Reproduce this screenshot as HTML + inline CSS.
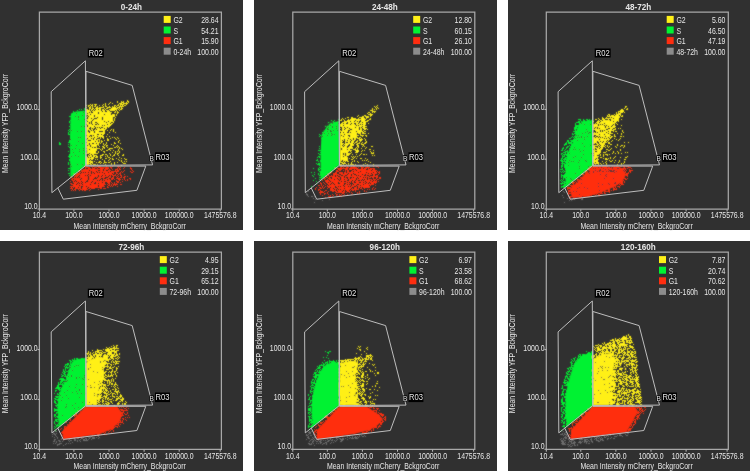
<!DOCTYPE html>
<html><head><meta charset="utf-8"><title>Cell cycle scatter plots</title>
<style>
html,body{margin:0;padding:0;background:#fff;}
body{width:750px;height:471px;overflow:hidden;}
svg{display:block;}
text{font-family:'Liberation Sans', Arial, sans-serif;fill:#e6e6e6;}
.tt{font-size:8.6px;font-weight:bold;}
.tk{font-size:8.2px;}
.lg{font-size:8.2px;}
.rl{font-size:8.2px;}
.rb{font-size:6.5px;}
</style></head>
<body><svg width="750" height="471" viewBox="0 0 750 471" shape-rendering="auto">
<defs><filter id="bl" x="-0.1" y="-0.1" width="1.2" height="1.2"><feConvolveMatrix order="3" kernelMatrix="1 2 1 2 12 2 1 2 1" divisor="24" preserveAlpha="false"/></filter></defs>
<rect width="750" height="471" fill="#fff"/>
<g transform="translate(0,0)">
<rect x="0" y="0" width="243" height="230" fill="#303030"/>
<g filter="url(#bl)"><path d="M76 111.5L71 113.5L70.5 120L70 135L70 160L70.5 177.8L86 165.3L85.7 110.5Z" fill="#00f232"/>
<path d="M84 108.5h1m-6 1h1m1 0h1m2 0h2m-9 1h1m-5 1h1m-1 1h1m-5 4h2m-1 4h1m-2 1h1m-1 1h1m0 2h1m-2 2h1m-1 3h1m-2 1h1m0 1h1m-2 1h1m-1 1h1m-1 1h2m-1 6h1m-1 1h1m-2 1h2m-2 2h1m-1 2h1m0 1h1m-2 4h1m0 3h1m-1 1h1m-2 1h2m-1 1h1m-1 2h1m-1 1h1m-2 2h1m-1 1h1m-1 1h1m-1 4h2m-2 2h1m-1 3h2m-1 2h1" stroke="#00f232" fill="none"/>
<path d="M83 112.5h1m-8 1h1m5 2h1m-8 1h1m2 0h1m-1 1h1m-1 2h1m5 0h1m-4 7h1m2 0h1m-14 4h1m5 1h1m3 0h1m3 1h1m-8 5h1m1 0h1m-11 2h1m7 2h1m3 2h1m-12 2h1m4 0h1m-2 3h1m7 0h1m-12 1h1m6 0h1m3 1h1m-5 1h1m-7 1h1m9 1h1m-9 2h1m-5 1h1m6 0h1m-9 8h1m6 0h1m4 0h1m-12 2h1" stroke="#303030" fill="none"/>
<path d="M59 142.5h1m-1 1h2m-2 1h2" stroke="#00f232" fill="none"/>
<path d="M117 101.5h1m3 0h1m1 0h1m-14 1h1m6 0h1m5 0h1m-19 1h1m3 0h1m2 0h1m12 0h1m-36 1h1m1 0h1m1 0h3m6 0h1m1 0h1m2 0h1m9 0h1m1 0h1m2 0h1m-38 1h1m1 0h2m1 0h2m2 0h1m3 0h1m2 0h1m2 0h1m8 0h2m-28 1h1m1 0h1m1 0h1m1 0h2m1 0h1m7 0h2m2 0h1m2 0h1m-27 1h1m2 0h1m2 0h1m4 0h1m2 0h2m5 0h1m2 0h1m1 0h1m-24 1h1m3 0h1m3 0h1m1 0h1m4 0h1m2 0h1m-21 1h1m1 0h1m1 0h2m7 0h1m1 0h1m-14 1h1m1 0h1m3 0h1m-10 1h1m1 0h1" stroke="#fff018" fill="none"/>
<path d="M103 106.5h1m5 0h1m2 0h1m1 0h1m1 0h1m-27 1h1m1 0h1m3 0h2m1 0h2m1 0h2m4 0h2m2 0h2m1 0h1m-26 1h1m1 0h2m1 0h6m5 0h1m4 0h1m3 0h2m-31 1h2m6 0h1m1 0h2m1 0h2m2 0h1m1 0h1m3 0h1m6 0h1m-31 1h3m2 0h1m1 0h1m2 0h3m1 0h1m1 0h1m3 0h1m4 0h1m-25 1h4m1 0h1m3 0h3m4 0h1m-16 1h1m1 0h1m4 0h1m5 0h1m1 0h2m1 0h2m2 0h2m2 0h1m-29 1h1m3 0h2m4 0h1m5 0h3m5 0h1m-24 1h3m2 0h1m1 0h1m3 0h5m9 0h2m-26 1h3m7 0h2m2 0h2m6 0h4m-24 1h4m3 0h1m1 0h2m2 0h1m5 0h1m-22 1h1m2 0h1m1 0h2m3 0h1m2 0h1m2 0h2m1 0h1m1 0h1m1 0h2m-23 1h1m14 0h2m2 0h1m-23 1h3m4 0h2m3 0h1m7 0h1m1 0h1m2 0h1m-25 1h1m6 0h1m4 0h2m1 0h1m2 0h1m1 0h2m-24 1h1m6 0h1m11 0h2m-21 1h1m5 0h1m5 0h1m8 0h1m2 0h1m-25 1h2m5 0h2m3 0h1m1 0h1m4 0h1m3 0h1m-21 1h3m5 0h1m2 0h1m2 0h1m1 0h1m3 0h1m-24 1h1m1 0h2m2 0h5m1 0h4m4 0h1m1 0h2m-22 1h1m1 0h2m1 0h1m1 0h1m6 0h1m3 0h1m2 0h1m-22 1h2m1 0h1m2 0h1m1 0h1m3 0h1m2 0h1m4 0h1m-23 1h1m1 0h1m4 0h1m4 0h1m3 0h1m-15 1h2m1 0h1m3 0h1m1 0h1m4 0h1m-13 1h1m1 0h1m2 0h1m1 0h1m5 0h1m3 0h1m-17 1h2m5 0h1m5 0h1m-19 1h1m4 0h1m1 0h1m2 0h1m1 0h3m2 0h2m-18 1h2m2 0h1m2 0h1m1 0h2m3 0h1m1 0h2m-18 1h1m2 0h2m3 0h2m5 0h2m-17 1h1m6 0h1m1 0h2m1 0h1m2 0h1m-17 1h2m2 0h1m1 0h1m1 0h3m2 0h1m2 0h2m-18 1h2m1 0h1m1 0h2m5 0h1m1 0h1m1 0h1m-11 1h1m3 0h1m3 0h1m-14 1h2m1 0h1m1 0h1m1 0h1m-8 1h1m3 0h1m1 0h3m1 0h1m-12 1h1m3 0h1m1 0h1m3 0h1m-10 1h1m2 0h1m3 0h1m2 0h1m1 0h1m-13 1h2m2 0h1m-5 1h2m1 0h1m1 0h1m1 0h2m2 0h1m-13 1h1m2 0h1m2 0h2m2 0h1m-11 1h1m5 0h1m-7 1h2m1 0h2m2 0h1m-6 1h8m1 0h1m-10 1h1m1 0h2m2 0h1m-8 1h2m1 0h1m1 0h1m2 0h1m-9 1h2m2 0h2m1 0h2m-6 1h1m4 0h1m-9 1h2m6 0h2m-5 1h1m-5 1h1m2 0h1m1 0h1m1 0h2m-3 1h1m-8 1h1m1 0h1m2 0h2m2 0h1m-11 1h4m3 0h1m-8 1h4m1 0h1m3 0h1m-10 1h3m-3 1h3m3 0h1m1 0h1m-8 1h2m3 0h1m3 0h1m-7 1h1m1 0h1m-6 1h1m2 0h2m1 0h3" stroke="#fff018" fill="none"/>
<path d="M96 110.5h2m1 0h2m2 0h2m-18 1h1m4 0h10m2 0h1m2 0h2m-23 1h3m4 0h2m1 0h2m1 0h5m1 0h2m1 0h2m-24 1h1m1 0h3m1 0h4m1 0h1m1 0h3m1 0h7m-24 1h4m1 0h7m4 0h2m1 0h3m1 0h2m-23 1h1m2 0h3m1 0h3m2 0h2m1 0h1m1 0h6m-24 1h1m1 0h1m1 0h3m1 0h2m1 0h5m1 0h4m1 0h1m-24 1h1m2 0h2m1 0h2m1 0h2m1 0h3m2 0h1m2 0h1m2 0h2m-23 1h2m2 0h2m3 0h3m1 0h1m1 0h1m1 0h1m2 0h3m-25 1h3m1 0h3m3 0h6m1 0h6m1 0h1m-24 1h1m1 0h3m1 0h9m1 0h3m3 0h3m-24 1h3m1 0h1m1 0h10m1 0h2m2 0h2m-24 1h2m1 0h1m1 0h3m2 0h1m1 0h3m1 0h3m1 0h2m-23 1h3m1 0h1m1 0h1m2 0h2m2 0h2m1 0h3m1 0h4m-23 1h3m1 0h1m1 0h2m4 0h1m1 0h1m2 0h3m1 0h1m-23 1h1m3 0h2m1 0h7m5 0h4m-23 1h1m1 0h6m2 0h10m2 0h1m-23 1h2m1 0h1m1 0h4m3 0h1m4 0h1m1 0h2m-21 1h2m3 0h1m1 0h1m2 0h4m1 0h3m1 0h2m-21 1h4m2 0h1m5 0h8m-20 1h2m1 0h1m4 0h9m1 0h1m-19 1h2m2 0h4m1 0h4m4 0h2m-19 1h3m1 0h4m1 0h3m1 0h4m-17 1h17m-17 1h1m1 0h2m1 0h6m2 0h2m-14 1h3m2 0h1m1 0h3m1 0h4m-16 1h1m1 0h1m1 0h1m1 0h3m1 0h1m1 0h4m-16 1h5m1 0h2m1 0h4m-13 1h1m1 0h3m3 0h3m-10 1h6m1 0h2m1 0h3m-14 1h2m3 0h4m1 0h2m-12 1h6m1 0h2m1 0h2m1 0h1m-12 1h11m-13 1h1m1 0h1m1 0h1m3 0h2m2 0h1m-13 1h3m2 0h6m-11 1h1m1 0h2m1 0h1m2 0h3m-10 1h3m1 0h6m-11 1h1m1 0h2m1 0h1m1 0h1m2 0h1m-10 1h1m2 0h4m1 0h2m-11 1h2m2 0h1m1 0h2m2 0h1m-10 1h1m1 0h3m1 0h3m-9 1h4m1 0h3m-8 1h3m1 0h4m-9 1h1m1 0h1m1 0h5m-6 1h2m1 0h2m-6 1h1m1 0h2m1 0h2m-9 1h1m1 0h4m1 0h1m-8 1h2m1 0h1m1 0h2m-7 1h1m1 0h5m-7 1h2m1 0h1m2 0h1m-5 1h1m1 0h1m-3 1h4m-6 1h2m2 0h2m-6 1h5m-5 1h3" stroke="#fff018" fill="none"/>
<path d="M127 100.5h1m-1 1h2m-8 1h3m2 0h1m1 0h1m-10 1h3m1 0h5m-7 1h2m3 0h1m-10 1h2m1 0h1m1 0h1m1 0h2m-12 1h1m1 0h1m2 0h5m-12 1h1m1 0h2m1 0h3m1 0h1m-10 1h4m1 0h1m1 0h1m1 0h2m-13 1h6m2 0h1m1 0h2m-15 1h2m1 0h5m1 0h1m2 0h1m-11 1h1m5 0h1m1 0h1m-12 1h3m1 0h2m3 0h1m1 0h2m-16 1h2m1 0h2m1 0h2m6 0h1m-13 1h6m1 0h3m1 0h1m-17 1h1m1 0h1m1 0h3m2 0h3m1 0h2m1 0h1m-17 1h2m2 0h3m1 0h1m1 0h5m-15 1h2m1 0h1m1 0h1m1 0h3m1 0h2m2 0h1m-16 1h2m1 0h6m1 0h3m1 0h1m-15 1h2m1 0h2m1 0h2m3 0h1m2 0h1m-15 1h3m1 0h1m1 0h4m1 0h2m1 0h1m-14 1h3m3 0h1m1 0h5m-14 1h5m2 0h4m2 0h1m-13 1h2m1 0h2m5 0h2m-12 1h4m1 0h1m2 0h3m-9 1h1m2 0h2m1 0h2m-6 1h4m-5 1h2m0 1h1" stroke="#fff018" fill="none"/>
<path d="M111 129.5h1m1 0h1m-4 1h1m2 0h1m-1 1h1m-5 1h1m5 0h1m-9 2h1m-2 2h1m2 0h1m-10 1h1m2 0h1m8 0h1m1 0h1m2 0h1m-15 1h1m3 0h1m2 0h1m4 0h1m2 0h1m-12 1h2m7 0h1m-18 1h1m1 0h1m2 0h1m2 0h2m10 0h1m-19 1h2m15 0h1m-18 1h1m4 0h1m7 0h1m3 0h1m-22 1h2m1 0h1m2 0h1m2 0h1m7 0h2m4 0h1m-24 1h1m5 0h1m1 0h1m5 0h1m-14 1h1m5 0h1m1 0h2m5 0h1m3 0h1m-19 1h1m2 0h2m2 0h1m9 0h1m1 0h1m-16 1h2m2 0h1m6 0h2m1 0h1m1 0h1m-24 1h1m1 0h2m2 0h1m1 0h1m4 0h4m6 0h1m1 0h1m-27 1h2m3 0h1m1 0h1m5 0h2m8 0h1m3 0h1m-27 1h1m4 0h1m4 0h2m2 0h1m2 0h1m4 0h1m-21 1h1m4 0h2m10 0h1m1 0h1m1 0h1m-22 1h1m5 0h1m7 0h1m2 0h1m3 0h1m-24 1h2m11 0h1m5 0h1m1 0h2m-17 1h2m1 0h2m3 0h1m3 0h1m2 0h1m5 0h1m-24 1h3m4 0h1m2 0h1m2 0h2m3 0h1m3 0h2m-28 1h2m2 0h1m4 0h1m1 0h1m4 0h1m-18 1h3m2 0h2m6 0h2m9 0h1m-20 1h1m4 0h2m3 0h1m1 0h1m3 0h1m4 0h1m2 0h1m-30 1h1m1 0h1m4 0h1m6 0h1m2 0h2m4 0h1m6 0h2m-23 1h1m3 0h1m10 0h1m1 0h1m-28 1h1m4 0h2m3 0h1m5 0h1m10 0h1m2 0h1m1 0h1m-29 1h2m1 0h1m2 0h3m1 0h2m4 0h1m2 0h1m4 0h1m-23 1h1m2 0h1m7 0h1m2 0h1m8 0h3m-29 1h1m7 0h1m5 0h1m2 0h1m6 1h1" stroke="#fff018" fill="none"/>
<path d="M85 166.5h1m1 0h1m3 0h1m1 0h1m3 0h4m5 0h1m5 0h1m4 0h3m-35 1h1m2 0h1m3 0h1m1 0h1m3 0h5m1 0h2m1 0h1m2 0h2m6 0h1m1 0h1m-33 1h1m5 0h1m2 0h1m5 0h1m1 0h1m1 0h1m9 0h1m1 0h1m-37 1h1m3 0h3m1 0h2m3 0h3m1 0h1m3 0h1m2 0h1m1 0h1m5 0h3m1 0h1m-39 1h1m4 0h2m2 0h1m1 0h4m1 0h1m3 0h1m2 0h2m4 0h1m4 0h1m2 0h1m-40 1h1m1 0h1m1 0h1m1 0h1m1 0h2m1 0h1m2 0h2m4 0h1m3 0h3m2 0h2m1 0h5m1 0h2m2 0h1m-42 1h1m8 0h2m1 0h1m2 0h2m1 0h1m10 0h2m1 0h2m2 0h1m-39 1h1m2 0h1m1 0h2m2 0h2m4 0h1m1 0h1m2 0h1m1 0h1m2 0h1m3 0h1m1 0h1m1 0h1m1 0h1m2 0h2m1 0h2m-47 1h1m1 0h1m4 0h1m1 0h1m1 0h3m4 0h1m1 0h1m2 0h3m3 0h1m1 0h1m3 0h2m4 0h1m2 0h1m-43 1h1m3 0h1m2 0h1m2 0h1m1 0h1m2 0h2m2 0h1m1 0h1m2 0h2m4 0h1m5 0h2m1 0h1m1 0h1m2 0h2m-42 1h1m2 0h5m3 0h1m4 0h1m3 0h1m3 0h4m1 0h2m2 0h1m2 0h1m1 0h1m2 0h1m-51 1h1m2 0h1m5 0h1m1 0h1m1 0h1m4 0h2m7 0h1m1 0h1m2 0h2m7 0h1m7 0h2m-39 1h1m1 0h1m1 0h1m3 0h1m1 0h1m3 0h2m8 0h1m4 0h2m2 0h2m1 0h1m-49 1h1m2 0h2m3 0h1m7 0h1m2 0h1m1 0h1m3 0h1m1 0h1m12 0h2m1 0h1m3 0h3m-49 1h1m3 0h2m6 0h1m6 0h2m2 0h2m3 0h2m3 0h1m2 0h1m1 0h1m5 0h1m2 0h1m-50 1h1m4 0h1m3 0h1m10 0h1m2 0h1m1 0h2m1 0h1m1 0h1m5 0h5m5 0h3m-43 1h2m2 0h1m2 0h2m3 0h1m1 0h1m5 0h2m3 0h1m2 0h1m4 0h1m7 0h1m-48 1h2m8 0h1m1 0h1m1 0h1m1 0h1m12 0h4m5 0h2m4 0h1m-44 1h2m7 0h2m1 0h3m2 0h1m2 0h2m4 0h3m2 0h1m1 0h1m2 0h1m5 0h4m-44 1h1m2 0h3m2 0h1m2 0h1m9 0h1m5 0h1m1 0h1m5 0h2m1 0h1m3 0h1m-46 1h5m1 0h3m1 0h1m2 0h2m5 0h1m1 0h1m2 0h1m1 0h1m4 0h3m2 0h1m2 0h1m1 0h1m-42 1h1m1 0h1m9 0h2m2 0h1m4 0h1m2 0h2m1 0h2m1 0h1m5 0h2m-39 1h3m2 0h1m8 0h2m2 0h1m11 0h2m1 0h3m-34 1h1m1 0h2m7 0h1m6 0h1m7 0h1m-28 1h1m1 0h1m1 0h1m3 0h1m2 0h1m1 0h2m3 0h1" stroke="#ff2d0f" fill="none"/>
<path d="M85 167.5h3m1 0h1m4 0h3m2 0h3m1 0h1m1 0h4m-24 1h1m3 0h2m1 0h2m6 0h3m2 0h2m1 0h1m-25 1h7m1 0h4m1 0h6m2 0h2m2 0h1m-28 1h7m2 0h2m1 0h3m3 0h3m1 0h2m2 0h2m-29 1h4m1 0h1m1 0h3m1 0h4m1 0h13m1 0h1m-33 1h2m1 0h1m1 0h1m1 0h2m2 0h1m1 0h1m1 0h1m5 0h2m1 0h5m2 0h2m-35 1h3m2 0h1m1 0h7m1 0h2m1 0h3m1 0h5m1 0h6m-35 1h7m1 0h1m2 0h1m1 0h3m1 0h1m1 0h4m1 0h9m1 0h2m-37 1h4m1 0h5m1 0h1m1 0h2m1 0h7m1 0h2m2 0h2m2 0h2m1 0h1m-37 1h4m1 0h1m1 0h4m1 0h2m1 0h2m1 0h6m1 0h2m1 0h3m1 0h2m1 0h1m-34 1h1m1 0h1m1 0h2m1 0h5m3 0h4m1 0h1m2 0h1m1 0h4m3 0h3m-39 1h9m1 0h6m1 0h5m3 0h4m2 0h1m2 0h3m-37 1h1m1 0h5m2 0h7m1 0h3m2 0h6m1 0h1m1 0h4m1 0h2m-37 1h2m3 0h9m1 0h4m1 0h2m1 0h1m1 0h1m1 0h2m1 0h1m1 0h6m-38 1h1m3 0h2m1 0h1m1 0h4m2 0h4m1 0h2m1 0h10m1 0h2m-36 1h5m1 0h1m1 0h1m4 0h5m1 0h3m2 0h5m1 0h2m2 0h2m-35 1h3m1 0h1m1 0h1m1 0h12m2 0h2m2 0h2m1 0h2m-32 1h3m1 0h5m2 0h4m1 0h1m1 0h1m1 0h6m1 0h4m1 0h1m-32 1h5m1 0h18m1 0h1m1 0h3m-29 1h3m1 0h2m2 0h3m1 0h5m1 0h5m1 0h3m-27 1h3m1 0h2m1 0h1m1 0h4m1 0h3m1 0h2m2 0h4m-26 1h6m1 0h5m2 0h1m1 0h4m-17 1h1m1 0h8" stroke="#ff2d0f" fill="none"/>
<path d="M110 166.5h1m1 0h1m5 1h1m5 0h1m5 0h1m-20 1h1m7 0h1m3 0h1m6 0h2m-23 1h1m2 0h1m6 0h2m10 0h1m-15 1h1m6 0h1m7 0h1m-18 1h3m5 0h1m6 0h1m2 0h1m-14 1h1m1 0h1m8 0h2m-23 1h1m6 0h1m-6 1h1m7 0h1m3 0h1m-11 1h2m5 0h1m-12 1h1m13 0h2m1 0h1m-18 1h1m2 0h1m3 0h1m5 0h2m-14 1h1m6 0h1m5 0h1m4 0h2m-19 1h1m5 0h2m2 0h1m1 0h1m2 0h1m2 0h1m-12 1h1m5 0h1m1 0h1m-18 1h1m5 0h1m1 0h1m3 0h1m-12 1h1m2 0h1m3 0h1m1 0h1m-9 1h1m3 0h1m-8 1h1m1 0h1m5 0h1m2 0h2m-9 1h1m3 1h1" stroke="#ff2d0f" fill="none"/></g>
<g transform="translate(0,0)">
<path d="M39.4 12H221.4V209.1H39.4Z" fill="none" stroke="#a8a8a8" stroke-width="1.25"/>
<text transform="translate(131.4,9.8) scale(0.95,1)" text-anchor="middle" class="tt">0-24h</text>
<path d="M37.5 209.0H39.5" stroke="#bdbdbd" stroke-width="1"/>
<text transform="translate(37.6,208.6) scale(0.845,1)" text-anchor="end" class="tk">10.0</text>
<path d="M37.5 159.2H39.5" stroke="#bdbdbd" stroke-width="1"/>
<text transform="translate(37.6,160.1) scale(0.845,1)" text-anchor="end" class="tk">100.0</text>
<path d="M37.5 109.4H39.5" stroke="#bdbdbd" stroke-width="1"/>
<text transform="translate(37.6,110.4) scale(0.845,1)" text-anchor="end" class="tk">1000.0</text>
<path d="M39.4 209.5V211.5" stroke="#bdbdbd" stroke-width="1"/>
<text transform="translate(39.4,218.4) scale(0.845,1)" text-anchor="middle" class="tk">10.4</text>
<path d="M73.9 209.5V211.5" stroke="#bdbdbd" stroke-width="1"/>
<text transform="translate(73.9021,218.4) scale(0.845,1)" text-anchor="middle" class="tk">100.0</text>
<path d="M109.0 209.5V211.5" stroke="#bdbdbd" stroke-width="1"/>
<text transform="translate(109.002,218.4) scale(0.845,1)" text-anchor="middle" class="tk">1000.0</text>
<path d="M144.1 209.5V211.5" stroke="#bdbdbd" stroke-width="1"/>
<text transform="translate(144.102,218.4) scale(0.845,1)" text-anchor="middle" class="tk">10000.0</text>
<path d="M179.2 209.5V211.5" stroke="#bdbdbd" stroke-width="1"/>
<text transform="translate(179.202,218.4) scale(0.845,1)" text-anchor="middle" class="tk">100000.0</text>
<path d="M220.2 209.5V211.5" stroke="#bdbdbd" stroke-width="1"/>
<text transform="translate(220.233,218.4) scale(0.845,1)" text-anchor="middle" class="tk">1475576.8</text>
<text transform="translate(129.7,229.2) scale(0.845,1)" text-anchor="middle" class="tk">Mean Intensity mCherry_BckgroCorr</text>
<text transform="translate(8.3,123.4) rotate(-90) scale(0.845,1)" text-anchor="middle" class="tk">Mean Intensity YFP_BckgroCorr</text>
<rect x="163.7" y="15.9" width="7" height="7" fill="#fff018"/>
<text transform="translate(173.4,23) scale(0.845,1)" class="lg">G2</text>
<text transform="translate(218.5,23) scale(0.845,1)" text-anchor="end" class="lg">28.64</text>
<rect x="163.7" y="26.5" width="7" height="7" fill="#00f232"/>
<text transform="translate(173.4,33.6) scale(0.845,1)" class="lg">S</text>
<text transform="translate(218.5,33.6) scale(0.845,1)" text-anchor="end" class="lg">54.21</text>
<rect x="163.7" y="37.1" width="7" height="7" fill="#ff2d0f"/>
<text transform="translate(173.4,44.2) scale(0.845,1)" class="lg">G1</text>
<text transform="translate(218.5,44.2) scale(0.845,1)" text-anchor="end" class="lg">15.90</text>
<rect x="163.7" y="47.7" width="7" height="7" fill="#8c8c8c"/>
<text transform="translate(173.4,54.8) scale(0.845,1)" class="lg">0-24h</text>
<text transform="translate(218.5,54.8) scale(0.845,1)" text-anchor="end" class="lg">100.00</text>
<path d="M85.4 60.8 L51.2 91.7 L51.9 192.7 L86 165.3Z" fill="none" stroke="#bdbdbd" stroke-width="1"/>
<path d="M86 71.3 L132.2 85.4 L152.6 164.9 L86 165.3Z" fill="none" stroke="#bdbdbd" stroke-width="1"/>
<path d="M86 166.1 L145.8 166.1 L136.9 190.3 L63.3 199.2 L57.8 187.9" fill="none" stroke="#bdbdbd" stroke-width="1"/>
<g>
<rect x="87.8" y="48.5" width="16" height="9" fill="#000"/>
<text transform="translate(95.8,56) scale(0.93,1)" text-anchor="middle" class="rl">R02</text>
<rect x="155" y="152.3" width="15" height="9.6" fill="#000"/>
<text transform="translate(162.5,160) scale(0.93,1)" text-anchor="middle" class="rl">R03</text>
<rect x="149.6" y="155.2" width="4.2" height="6" fill="#000"/>
<text transform="translate(151.7,160.8) scale(1,1)" text-anchor="middle" class="rb">B</text>
</g>
</g>
</g>
<g transform="translate(254,0)">
<rect x="0" y="0" width="243" height="230" fill="#303030"/>
<g filter="url(#bl)"><path d="M78 122.5L74 125L70 131L67.5 135L67 145L66.5 160L67 180L68.8 178.6L85.4 165.3L85.1 121.1Z" fill="#00f232"/>
<path d="M84 119.5h1m-8 1h1m2 0h1m-2 1h1m-6 1h1m1 0h1m1 0h1m-8 4h1m-4 6h1m-4 2h1m0 1h1m-2 1h1m1 2h1m-3 10h1m-2 2h1m1 0h1m-1 2h1m-3 1h1m0 1h2m-3 2h1m1 4h1m-3 1h1m1 0h1m-3 2h2m-1 1h1m-1 3h1m0 1h1m-2 1h1m-2 1h1m0 1h2m-1 1h1m-1 1h1m-3 1h1m1 0h1m-2 1h2m-2 2h2m-1 2h1" stroke="#00f232" fill="none"/>
<path d="M76 121.5h1m1 0h1m3 0h1m-13 1h3m2 0h2m1 0h1m-6 1h1m4 0h1m5 0h1m-11 1h1m10 0h1m-15 1h1m2 0h1m1 0h1m-5 1h1m5 0h1m3 0h1m-14 1h1m4 0h1m3 0h1m-6 1h1m8 0h1m-10 1h2m-6 1h1m6 0h1m2 0h1m3 0h1m-11 1h1m2 0h2m-10 2h1m1 0h1m3 0h1m2 0h1m0 1h1m1 0h1m-8 1h1m3 0h1m-10 1h1" stroke="#303030" fill="none"/>
<path d="M65 146.5h1m-1 4h1m-1 6h1m-3 1h1m1 0h1m-3 2h1m-2 1h2m2 0h1m-5 3h1m0 1h3m-1 1h1m-7 3h1m4 0h1m-1 1h1m-8 3h1m2 0h1m3 1h1m-5 1h1m-3 1h1m0 1h1m5 1h1m-5 1h1m3 1h1m-7 1h1m2 1h1m-1 2h1m-6 3h1" stroke="#00f232" fill="none"/>
<path d="M114 114.5h2m-12 1h1m5 0h1m-8 1h1m4 0h2m1 0h2m1 0h1m1 0h1m-24 1h2m2 0h2m6 0h2m2 0h1m2 0h3m-27 1h1m2 0h1m6 0h2m8 0h1m1 0h1m1 0h1m3 0h1m-30 1h1m1 0h1m10 0h1m3 0h1m5 0h1m4 0h2m-31 1h2m2 0h1m2 0h1m4 0h1m3 0h1m5 0h3m2 0h2m-24 1h3m1 0h1m15 0h1m1 0h1m-26 1h1m8 0h3m1 0h1m1 0h1m-14 1h1m3 0h2m6 0h2m1 0h3m6 0h1m-29 1h1m4 0h1m1 0h1m3 0h1m4 0h1m6 0h1m-22 1h1m1 0h1m5 0h3m1 0h1m9 0h1m-19 1h1m4 0h1m1 0h3m1 0h1m3 0h1m3 0h2m-22 1h2m1 0h3m13 0h1m-21 1h1m6 0h2m1 0h1m3 0h1m4 0h4m-24 1h1m1 0h2m1 0h1m3 0h1m3 0h1m7 0h1m-21 1h4m5 0h2m1 0h1m1 0h3m2 0h1m-23 1h3m1 0h1m3 0h1m1 0h3m4 0h3m1 0h1m1 0h2m-21 1h1m3 0h1m3 0h1m2 0h1m3 0h1m1 0h2m-21 1h1m3 0h2m3 0h1m2 0h1m3 0h2m1 0h2m-23 1h2m4 0h1m1 0h2m4 0h1m4 0h1m-21 1h1m2 0h1m8 0h1m7 0h1m1 0h1m-22 1h1m2 0h1m3 0h1m1 0h1m3 0h1m-10 1h1m3 0h3m7 0h2m-16 1h2m3 0h1m1 0h1m4 0h3m1 0h1m-21 1h2m3 0h4m2 0h1m1 0h1m4 0h3m-21 1h1m1 0h1m5 0h2m3 0h1m2 0h1m1 0h1m-18 1h1m6 0h1m1 0h2m3 0h1m3 0h1m-16 1h1m3 0h1m2 0h1m6 0h1m-20 1h2m8 0h1m1 0h1m1 0h1m2 0h1m-16 1h1m5 0h1m3 0h2m3 0h1m-18 1h1m4 0h2m3 0h1m1 0h2m3 0h1m-18 1h1m1 0h1m2 0h2m2 0h1m7 0h2m-16 1h3m2 0h2m2 0h1m-13 1h1m2 0h2m1 0h2m3 0h2m-5 1h2m7 0h1m-16 1h2m6 0h2m3 0h1m1 0h1m-12 1h1m3 0h1m5 0h2m-18 1h1m2 0h1m1 0h2m4 0h1m3 0h3m-17 1h1m2 0h1m3 0h3m-11 1h1m6 0h3m2 0h1m3 0h1m-17 1h3m1 0h1m3 0h1m-9 1h3m12 0h1m1 0h1m-16 1h2m3 0h1m6 0h1m-9 1h2m1 0h1m3 0h1m2 0h1m-17 1h1m1 0h1m3 0h2m4 0h1m-9 1h4m6 0h1m-12 1h1m1 0h1m1 0h2m3 0h1m1 0h1m-13 2h1m2 0h1m2 0h1m2 0h1m-11 1h1m4 0h1m1 0h1m1 0h1m1 0h2" stroke="#fff018" fill="none"/>
<path d="M105 117.5h5m-13 1h2m1 0h2m2 0h1m2 0h1m1 0h2m-17 1h1m1 0h8m1 0h7m-18 1h7m1 0h4m1 0h4m-21 1h1m1 0h4m1 0h3m1 0h2m1 0h1m2 0h4m1 0h1m-25 1h5m1 0h9m1 0h1m1 0h2m1 0h3m-25 1h2m1 0h2m2 0h1m1 0h1m1 0h2m2 0h1m3 0h6m-26 1h10m1 0h4m1 0h4m1 0h1m1 0h3m-26 1h3m2 0h6m1 0h4m1 0h1m1 0h5m-24 1h11m1 0h5m1 0h3m2 0h2m-23 1h2m1 0h2m1 0h1m2 0h4m1 0h3m1 0h1m1 0h2m-24 1h1m1 0h3m1 0h3m1 0h1m2 0h6m1 0h2m-20 1h1m2 0h5m2 0h4m1 0h2m1 0h2m-22 1h1m1 0h6m2 0h4m1 0h7m-22 1h2m1 0h5m1 0h3m2 0h2m1 0h4m-20 1h2m1 0h1m1 0h1m4 0h2m1 0h6m-20 1h12m1 0h4m-17 1h2m1 0h1m1 0h10m1 0h1m-17 1h1m1 0h6m2 0h2m1 0h5m-18 1h3m1 0h5m1 0h5m1 0h1m-17 1h5m1 0h3m1 0h1m1 0h1m1 0h4m-18 1h6m1 0h1m1 0h4m1 0h2m-16 1h4m1 0h5m1 0h2m1 0h2m-16 1h2m1 0h1m1 0h2m1 0h1m1 0h1m1 0h3m-15 1h2m3 0h5m2 0h2m-14 1h2m6 0h2m1 0h3m-13 1h3m1 0h8m-13 1h3m1 0h4m2 0h2m-12 1h2m1 0h1m2 0h2m2 0h3m-12 1h2m1 0h1m1 0h1m3 0h2m-12 1h5m1 0h1m1 0h1m1 0h2m-10 1h9m-11 1h1m1 0h5m1 0h2m-10 1h10m-10 1h9m-8 1h7m-8 1h3m3 0h2m-8 1h3m1 0h1m1 0h2m-8 1h5m1 0h2m-8 1h2m2 0h3m-7 1h7m-7 1h6m-6 1h6m-6 1h2m1 0h1m-4 1h1m2 0h1m-4 1h3m1 0h1m-2 1h2m-5 1h2m1 0h1m-4 1h1" stroke="#fff018" fill="none"/>
<path d="M123 105.5h1m-4 1h1m1 0h1m-2 1h1m1 0h1m-6 1h1m3 0h1m1 0h1m-7 1h1m1 0h1m1 0h1m-7 1h3m-1 1h4m-8 1h2m2 0h1m1 0h1m-8 1h1m2 0h1m-1 1h3m-8 1h1m4 0h2m-10 1h1m2 0h1m1 0h1m-1 1h1" stroke="#fff018" fill="none"/>
<path d="M111 128.5h1m-6 1h1m4 0h1m1 0h1m-8 1h2m-1 1h1m3 0h1m-10 1h1m2 0h1m-2 1h1m5 0h2m2 0h1m-16 1h1m4 1h1m2 0h1m1 0h1m1 0h2m-12 1h1m6 0h1m3 0h1m-14 1h3m1 0h1m2 0h1m-9 1h1m11 0h1m-3 1h1m2 0h1m-7 1h3m3 0h1m-9 1h1m8 0h1m-16 1h1m1 0h1m1 0h2m5 0h1m2 0h2m-9 1h2m1 0h1m2 0h2m-13 1h1m2 0h1m4 0h3m-13 1h1m6 0h1m4 0h1m-2 1h1m1 0h1m6 0h2m-21 1h1m3 0h1m1 0h1m7 0h1m-12 1h1m1 0h1m3 0h1m3 0h1m-13 1h3m13 0h2m-15 1h1m1 0h1m3 0h1m1 0h1m8 0h1m-16 1h1m2 0h1m8 0h1m-20 1h1m19 0h1m1 0h1m-13 1h1m9 0h3m-14 1h1m2 0h2m1 0h1m-8 1h1m12 0h1m1 0h1m-24 1h1m1 0h1m-2 1h1m7 1h2m3 0h1m-15 1h2m14 0h1m-6 1h1m1 0h1m1 0h1m-10 1h1m10 0h1m-18 1h1m6 0h1m11 0h1m-6 1h1m-15 1h2m2 0h1m7 0h1m3 0h1m5 0h1" stroke="#fff018" fill="none"/>
<path d="M87 166.5h2m1 0h2m1 0h1m3 0h1m1 0h2m5 0h2m5 0h1m5 0h1m2 0h2m-38 1h1m5 0h1m1 0h1m1 0h2m3 0h1m9 0h3m10 0h1m-44 1h1m1 0h2m3 0h1m1 0h1m1 0h1m2 0h2m1 0h1m1 0h1m6 0h1m4 0h1m1 0h1m1 0h1m-32 1h1m9 0h1m6 0h1m1 0h1m1 0h2m9 0h1m2 0h1m-39 1h2m2 0h1m2 0h1m1 0h1m12 0h1m2 0h1m2 0h3m3 0h1m2 0h1m2 0h1m-41 1h2m9 0h2m5 0h1m3 0h2m3 0h4m1 0h2m1 0h1m2 0h2m1 0h1m1 0h1m-49 1h1m4 0h1m2 0h1m1 0h2m1 0h1m3 0h1m1 0h2m2 0h2m4 0h1m1 0h1m2 0h1m2 0h1m1 0h1m1 0h1m3 0h1m1 0h2m-50 1h1m2 0h1m5 0h2m4 0h2m2 0h2m1 0h1m5 0h1m4 0h1m15 0h1m-52 1h1m4 0h1m4 0h1m6 0h1m6 0h2m3 0h3m4 0h1m3 0h1m1 0h1m2 0h1m4 0h1m-51 1h1m2 0h1m1 0h1m2 0h1m3 0h1m2 0h2m5 0h1m1 0h1m4 0h1m2 0h2m4 0h1m2 0h1m7 0h1m-52 1h1m2 0h3m2 0h1m2 0h1m5 0h1m1 0h1m3 0h1m2 0h1m2 0h3m4 0h2m2 0h3m2 0h3m2 0h2m-52 1h2m1 0h1m3 0h1m1 0h4m6 0h1m3 0h1m2 0h1m5 0h1m1 0h1m3 0h1m3 0h1m1 0h1m5 0h2m1 0h2m-57 1h2m2 0h1m1 0h1m1 0h1m1 0h1m7 0h1m5 0h2m4 0h1m4 0h1m4 0h1m1 0h1m1 0h1m10 0h2m-57 1h1m7 0h1m4 0h1m4 0h2m3 0h1m1 0h2m1 0h4m2 0h1m9 0h1m8 0h2m-57 1h1m2 0h1m1 0h2m2 0h1m3 0h1m1 0h1m2 0h2m3 0h2m4 0h1m4 0h1m3 0h1m6 0h1m1 0h1m1 0h2m1 0h1m1 0h1m-52 1h1m1 0h2m2 0h1m1 0h1m1 0h2m1 0h1m10 0h1m2 0h1m2 0h2m1 0h2m1 0h1m2 0h1m1 0h1m4 0h1m3 0h2m1 0h1m-59 1h1m2 0h1m9 0h1m1 0h1m4 0h2m2 0h1m7 0h1m9 0h1m2 0h1m1 0h1m2 0h1m4 0h2m-57 1h2m2 0h1m4 0h1m5 0h1m1 0h1m3 0h1m1 0h1m4 0h1m5 0h2m1 0h2m1 0h1m2 0h2m1 0h2m3 0h1m3 0h1m-55 1h1m9 0h2m13 0h1m1 0h1m1 0h1m3 0h2m10 0h1m1 0h1m2 0h1m1 0h1m-56 1h2m1 0h1m1 0h1m3 0h1m2 0h1m3 0h3m2 0h1m1 0h1m4 0h1m1 0h3m2 0h1m3 0h1m1 0h1m3 0h1m2 0h2m2 0h1m4 0h1m-54 1h1m2 0h1m2 0h1m1 0h1m10 0h3m7 0h1m1 0h1m6 0h1m1 0h2m4 0h2m-54 1h1m2 0h2m1 0h1m1 0h1m4 0h1m1 0h2m4 0h1m3 0h1m3 0h1m3 0h1m1 0h1m3 0h1m5 0h1m4 0h1m2 0h1m3 0h1m-59 1h1m4 0h2m1 0h1m3 0h1m3 0h1m3 0h2m2 0h1m6 0h1m2 0h1m4 0h1m3 0h1m2 0h1m10 0h1m2 0h1m-61 1h1m2 0h2m11 0h2m2 0h1m3 0h1m1 0h2m1 0h1m3 0h2m1 0h2m1 0h1m1 0h2m4 0h1m4 0h1m1 0h1m2 0h1m1 0h1m-57 1h1m1 0h1m4 0h2m3 0h2m6 0h2m1 0h1m2 0h1m1 0h1m6 0h1m1 0h1m8 0h1m-45 1h3m1 0h1m3 0h1m3 0h1m5 0h1m4 0h1m4 0h2m5 0h1m3 0h1m4 0h1m1 0h1m-48 1h5m3 0h1m8 0h2m1 0h1m1 0h1m2 0h1m4 0h1m1 0h1m5 0h1m1 0h1m-40 1h1m3 0h2m1 0h1m7 0h1m6 0h2m8 0h1m4 0h1m1 0h1m-40 1h1m3 0h1m3 0h1m3 0h1m3 0h2m1 0h1m1 0h1m2 0h1m2 0h1m3 0h1m-30 1h1m7 0h1m2 0h1m2 0h1m2 0h2m2 0h1m-16 1h3m1 0h1m5 0h1m2 0h1m-17 1h1m3 0h1" stroke="#ff2d0f" fill="none"/>
<path d="M86 167.5h2m1 0h1m2 0h3m1 0h1m1 0h5m1 0h1m2 0h3m1 0h5m-32 1h4m1 0h5m1 0h5m1 0h3m3 0h2m1 0h2m2 0h1m1 0h5m-37 1h4m3 0h3m1 0h3m2 0h1m1 0h2m1 0h7m2 0h4m1 0h2m-39 1h2m1 0h1m7 0h2m3 0h4m1 0h8m1 0h5m1 0h1m1 0h3m-41 1h1m1 0h1m6 0h1m5 0h2m2 0h4m2 0h5m1 0h2m1 0h1m1 0h2m1 0h1m1 0h1m-43 1h2m3 0h1m3 0h2m1 0h11m1 0h3m1 0h3m1 0h1m1 0h4m1 0h3m-44 1h4m4 0h2m1 0h1m1 0h2m3 0h1m2 0h9m1 0h4m1 0h2m1 0h5m-44 1h5m3 0h6m1 0h3m1 0h2m2 0h1m1 0h4m1 0h2m1 0h2m1 0h3m1 0h2m-44 1h1m2 0h1m3 0h3m3 0h1m2 0h3m2 0h4m1 0h1m1 0h1m1 0h3m2 0h1m2 0h1m3 0h2m1 0h2m-48 1h5m1 0h2m2 0h3m2 0h4m1 0h6m1 0h3m1 0h2m1 0h5m1 0h6m-47 1h1m2 0h4m3 0h1m1 0h3m4 0h2m2 0h1m1 0h3m1 0h2m1 0h2m1 0h1m1 0h1m1 0h3m1 0h2m-45 1h2m1 0h5m1 0h2m1 0h6m2 0h1m1 0h3m1 0h1m1 0h1m1 0h8m6 0h1m2 0h1m-50 1h1m1 0h5m1 0h2m2 0h1m1 0h3m1 0h3m1 0h4m1 0h1m2 0h1m1 0h3m1 0h1m1 0h2m1 0h4m1 0h3m-50 1h1m1 0h1m1 0h9m1 0h5m1 0h1m2 0h2m2 0h2m1 0h2m2 0h1m1 0h1m1 0h6m1 0h2m1 0h1m1 0h1m-51 1h4m1 0h10m1 0h2m2 0h5m1 0h2m1 0h6m1 0h3m2 0h5m1 0h3m-50 1h2m1 0h3m1 0h5m1 0h5m1 0h2m1 0h1m1 0h1m1 0h2m2 0h3m2 0h1m2 0h1m2 0h2m2 0h4m-48 1h4m1 0h1m1 0h3m3 0h4m2 0h4m3 0h2m1 0h2m1 0h5m5 0h1m1 0h3m-49 1h1m2 0h2m2 0h2m1 0h9m1 0h1m2 0h1m1 0h1m1 0h1m1 0h1m1 0h1m2 0h4m1 0h7m1 0h2m-45 1h7m1 0h4m1 0h1m1 0h4m1 0h2m1 0h1m1 0h2m1 0h3m1 0h8m1 0h1m-44 1h1m1 0h6m1 0h2m1 0h1m1 0h3m1 0h3m1 0h1m2 0h1m3 0h1m1 0h2m1 0h1m2 0h4m1 0h1m-42 1h1m2 0h4m2 0h12m1 0h2m2 0h3m1 0h2m1 0h1m1 0h7m-40 1h3m1 0h1m1 0h1m1 0h1m1 0h4m1 0h4m1 0h1m1 0h1m1 0h3m1 0h1m1 0h2m2 0h1m-35 1h2m1 0h1m1 0h1m1 0h1m1 0h1m1 0h9m2 0h2m1 0h1m1 0h2m-28 1h5m1 0h1m1 0h2m1 0h1m1 0h1m2 0h2m1 0h1m1 0h2m-21 1h1m1 0h2m2 0h3m2 0h1m2 0h1m1 0h1m-12 1h1m1 0h4m2 0h1" stroke="#ff2d0f" fill="none"/>
<path d="M54 191.5h1m-3 2h1m-1 1h2m-1 1h1m0 1h1m2 0h2m1 0h1m22 0h1m-7 1h1m-19 1h1m1 1h1m13 0h1m-8 1h1m-9 2h1" stroke="#6e6e6e" fill="none"/></g>
<g transform="translate(-0.6,0)">
<path d="M39.4 12H221.4V209.1H39.4Z" fill="none" stroke="#a8a8a8" stroke-width="1.25"/>
<text transform="translate(131.4,9.8) scale(0.95,1)" text-anchor="middle" class="tt">24-48h</text>
<path d="M37.5 209.0H39.5" stroke="#bdbdbd" stroke-width="1"/>
<text transform="translate(37.6,208.6) scale(0.845,1)" text-anchor="end" class="tk">10.0</text>
<path d="M37.5 159.2H39.5" stroke="#bdbdbd" stroke-width="1"/>
<text transform="translate(37.6,160.1) scale(0.845,1)" text-anchor="end" class="tk">100.0</text>
<path d="M37.5 109.4H39.5" stroke="#bdbdbd" stroke-width="1"/>
<text transform="translate(37.6,110.4) scale(0.845,1)" text-anchor="end" class="tk">1000.0</text>
<path d="M39.4 209.5V211.5" stroke="#bdbdbd" stroke-width="1"/>
<text transform="translate(39.4,218.4) scale(0.845,1)" text-anchor="middle" class="tk">10.4</text>
<path d="M73.9 209.5V211.5" stroke="#bdbdbd" stroke-width="1"/>
<text transform="translate(73.9021,218.4) scale(0.845,1)" text-anchor="middle" class="tk">100.0</text>
<path d="M109.0 209.5V211.5" stroke="#bdbdbd" stroke-width="1"/>
<text transform="translate(109.002,218.4) scale(0.845,1)" text-anchor="middle" class="tk">1000.0</text>
<path d="M144.1 209.5V211.5" stroke="#bdbdbd" stroke-width="1"/>
<text transform="translate(144.102,218.4) scale(0.845,1)" text-anchor="middle" class="tk">10000.0</text>
<path d="M179.2 209.5V211.5" stroke="#bdbdbd" stroke-width="1"/>
<text transform="translate(179.202,218.4) scale(0.845,1)" text-anchor="middle" class="tk">100000.0</text>
<path d="M220.2 209.5V211.5" stroke="#bdbdbd" stroke-width="1"/>
<text transform="translate(220.233,218.4) scale(0.845,1)" text-anchor="middle" class="tk">1475576.8</text>
<text transform="translate(129.7,229.2) scale(0.845,1)" text-anchor="middle" class="tk">Mean Intensity mCherry_BckgroCorr</text>
<text transform="translate(8.3,123.4) rotate(-90) scale(0.845,1)" text-anchor="middle" class="tk">Mean Intensity YFP_BckgroCorr</text>
<rect x="159.8" y="15.9" width="7" height="7" fill="#fff018"/>
<text transform="translate(169.5,23) scale(0.845,1)" class="lg">G2</text>
<text transform="translate(218.5,23) scale(0.845,1)" text-anchor="end" class="lg">12.80</text>
<rect x="159.8" y="26.5" width="7" height="7" fill="#00f232"/>
<text transform="translate(169.5,33.6) scale(0.845,1)" class="lg">S</text>
<text transform="translate(218.5,33.6) scale(0.845,1)" text-anchor="end" class="lg">60.15</text>
<rect x="159.8" y="37.1" width="7" height="7" fill="#ff2d0f"/>
<text transform="translate(169.5,44.2) scale(0.845,1)" class="lg">G1</text>
<text transform="translate(218.5,44.2) scale(0.845,1)" text-anchor="end" class="lg">26.10</text>
<rect x="159.8" y="47.7" width="7" height="7" fill="#8c8c8c"/>
<text transform="translate(169.5,54.8) scale(0.845,1)" class="lg">24-48h</text>
<text transform="translate(218.5,54.8) scale(0.845,1)" text-anchor="end" class="lg">100.00</text>
<path d="M85.4 60.8 L51.2 91.7 L51.9 192.7 L86 165.3Z" fill="none" stroke="#bdbdbd" stroke-width="1"/>
<path d="M86 71.3 L132.2 85.4 L152.6 164.9 L86 165.3Z" fill="none" stroke="#bdbdbd" stroke-width="1"/>
<path d="M86 166.1 L145.8 166.1 L136.9 190.3 L63.3 199.2 L57.8 187.9" fill="none" stroke="#bdbdbd" stroke-width="1"/>
<g>
<rect x="87.8" y="48.5" width="16" height="9" fill="#000"/>
<text transform="translate(95.8,56) scale(0.93,1)" text-anchor="middle" class="rl">R02</text>
<rect x="155" y="152.3" width="15" height="9.6" fill="#000"/>
<text transform="translate(162.5,160) scale(0.93,1)" text-anchor="middle" class="rl">R03</text>
<rect x="149.6" y="155.2" width="4.2" height="6" fill="#000"/>
<text transform="translate(151.7,160.8) scale(1,1)" text-anchor="middle" class="rb">B</text>
</g>
</g>
</g>
<g transform="translate(508,0)">
<rect x="0" y="0" width="242" height="230" fill="#303030"/>
<g filter="url(#bl)"><path d="M70 119.5h3m2 0h1m2 0h2m1 0h1m2 0h1m-13 1h1m2 0h2m2 0h3m1 0h2m-15 1h2m1 0h1m1 0h1m2 0h3m2 0h1m-16 1h4m4 0h3m1 0h2m1 0h1m-17 1h1m3 0h7m2 0h2m1 0h1m-17 1h1m6 0h1m1 0h1m1 0h2m2 0h2m-17 1h4m2 0h2m2 0h1m1 0h3m1 0h1m-17 1h3m1 0h1m4 0h1m1 0h1m1 0h1m1 0h1m1 0h1m-19 1h3m12 0h3m-18 1h4m1 0h2m2 0h1m2 0h2m2 0h1m-17 1h2m1 0h4m2 0h1m1 0h5m2 0h1m-18 1h2m1 0h1m1 0h1m2 0h3m3 0h1m1 0h2m-20 1h4m1 0h4m1 0h1m1 0h2m1 0h1m2 0h1m-17 1h4m1 0h1m1 0h1m1 0h4m1 0h4m-21 1h1m1 0h3m2 0h1m4 0h3m2 0h1m2 0h1m-21 1h2m2 0h2m2 0h1m3 0h1m4 0h1m-13 1h1m1 0h8m2 0h4m-21 1h1m1 0h1m2 0h1m1 0h2m3 0h3m1 0h2m1 0h1m-21 1h1m1 0h1m1 0h4m1 0h2m2 0h1m5 0h2m-23 1h2m3 0h2m1 0h1m1 0h1m1 0h6m4 0h2m-20 1h2m1 0h2m1 0h2m1 0h2m2 0h1m1 0h1m2 0h1m-25 1h2m1 0h8m1 0h2m1 0h2m1 0h1m2 0h2m1 0h1m-25 1h2m2 0h3m1 0h2m2 0h4m3 0h6m-26 1h1m1 0h4m1 0h1m1 0h2m2 0h1m3 0h2m3 0h5m-28 1h2m1 0h4m1 0h1m1 0h3m2 0h1m1 0h1m2 0h1m1 0h1m4 0h1m-29 1h3m4 0h2m1 0h1m3 0h1m1 0h3m5 0h2m1 0h1m-28 1h1m4 0h1m1 0h1m2 0h1m2 0h1m1 0h3m2 0h4m4 0h1m-26 1h2m1 0h5m1 0h2m1 0h1m1 0h1m1 0h2m1 0h2m1 0h2m1 0h1m-30 1h1m2 0h2m6 0h1m7 0h2m1 0h3m1 0h4m-31 1h2m2 0h1m2 0h4m2 0h1m1 0h1m3 0h2m1 0h1m1 0h1m2 0h2m1 0h1m-31 1h1m2 0h1m4 0h2m2 0h2m1 0h1m1 0h3m3 0h1m5 0h2m-32 1h2m1 0h1m2 0h1m1 0h2m1 0h1m1 0h4m5 0h2m1 0h1m2 0h1m1 0h2m-28 1h3m2 0h1m2 0h2m3 0h1m1 0h1m1 0h1m3 0h1m3 0h3m-30 1h3m1 0h2m1 0h4m2 0h3m1 0h3m6 0h2m1 0h1m-32 1h2m2 0h1m1 0h1m6 0h5m8 0h4m1 0h1m-32 1h1m1 0h5m3 0h2m1 0h2m3 0h2m3 0h3m3 0h2m-30 1h1m1 0h1m1 0h3m2 0h1m3 0h6m2 0h1m3 0h3m2 0h1m-31 1h3m2 0h4m3 0h3m2 0h1m3 0h2m1 0h3m2 0h1m-30 1h1m2 0h4m2 0h4m2 0h3m5 0h3m3 0h2m-32 1h2m1 0h2m3 0h3m1 0h2m1 0h2m1 0h2m3 0h1m1 0h3m3 0h1m-32 1h1m1 0h4m1 0h9m4 0h2m2 0h3m2 0h3m-33 1h3m1 0h1m2 0h3m1 0h4m4 0h7m2 0h2m2 0h1m-32 1h6m1 0h2m3 0h1m2 0h2m3 0h1m3 0h4m3 0h1m-31 1h1m2 0h2m2 0h2m1 0h2m3 0h1m2 0h1m3 0h2m1 0h1m1 0h1m-29 1h4m2 0h1m1 0h1m1 0h1m4 0h2m2 0h3m4 0h5m-30 1h1m1 0h4m5 0h1m1 0h4m2 0h1m1 0h5m1 0h2m-30 1h2m1 0h2m2 0h1m2 0h1m1 0h3m1 0h6m5 0h3m-30 1h2m1 0h2m3 0h2m1 0h2m1 0h6m6 0h2m1 0h1m-30 1h1m2 0h2m3 0h1m2 0h2m2 0h2m3 0h3m1 0h1m3 0h1m-28 1h1m2 0h2m1 0h2m2 0h1m1 0h2m4 0h1m1 0h1m4 0h1m-28 1h3m2 0h1m2 0h1m1 0h4m2 0h2m2 0h2m2 0h4m-25 1h1m1 0h1m1 0h1m2 0h5m2 0h2m2 0h3m1 0h1m-26 1h1m1 0h1m1 0h1m1 0h1m4 0h1m1 0h1m1 0h3m1 0h1m2 0h4m-25 1h1m1 0h1m1 0h1m3 0h3m3 0h1m3 0h1m2 0h1m-18 1h1m1 0h3m1 0h2m1 0h1m1 0h7m-22 1h1m2 0h6m1 0h2m2 0h4m2 0h1m-21 1h5m1 0h1m3 0h2m3 0h1m1 0h2m-19 1h1m1 0h3m1 0h2m2 0h2m3 0h3m-18 1h1m1 0h3m3 0h1m4 0h1m-12 1h1m1 0h1m2 0h2m1 0h1m1 0h1m1 0h2m-16 1h1m1 0h1m4 0h1m3 0h1m1 0h2m-16 1h1m1 0h1m5 0h3m1 0h1m-12 1h1m1 0h2m1 0h1m1 0h1m-7 1h1m1 0h3m1 0h2m-10 1h5m1 0h3m-8 1h1m2 0h2m3 0h1m-7 1h4m1 0h1m-8 1h6m-6 1h1m1 0h2" stroke="#00f232" fill="none"/>
<path d="M75 121L71 124L68 132L66 140L61 150L58 160L57 175L58 186.9L84.9 165.3L84.6 120.5Z" fill="#00f232"/>
<path d="M73 123.5h1m2 1h1m5 0h1m-5 5h1m-11 1h1m10 1h1m-3 1h1m3 0h2m-9 1h1m5 0h1m-13 2h1m1 0h1m2 1h1m5 0h1m-11 1h1m1 0h1m1 0h1m2 0h1m-10 1h1m8 1h1m-8 1h1m14 0h1m-11 3h1m9 1h1m-3 1h1m-7 1h1m-11 1h1m-2 2h1m1 0h1m3 0h1m3 1h1m-4 1h1m-12 2h1m21 0h1m-9 1h1m-9 2h1m-3 1h1m7 0h1m-13 3h1m9 0h1m5 0h1m-15 1h1m1 0h1m12 0h1m-19 1h1m9 0h1m-11 3h1m10 1h1m8 0h1m0 1h1m-11 1h1m-15 2h1m18 1h1m-20 1h1m9 1h1m-10 4h1m3 1h1m0 1h1m1 1h1m-5 3h1" stroke="#303030" fill="none"/>
<path d="M117 106.5h2m-2 1h1m-2 1h1m2 0h1m-2 1h2m-8 1h1m2 0h1m-1 1h1m-8 1h1m7 0h1m-9 1h1m-9 1h2m6 0h1m1 0h1m-12 1h1m1 0h1m1 0h2m3 0h1m5 0h1m-16 1h1m1 0h1m1 0h1m1 0h1m1 0h1m3 0h1m1 0h2m-21 1h1m3 0h1m6 0h1m2 0h1m-19 1h1m3 0h2m1 0h1m4 0h1m3 0h1m1 0h2m-23 1h2m2 0h1m4 0h1m6 0h1m2 0h2m2 0h1m2 0h1m-24 1h1m7 0h1m4 0h1m2 0h2m1 0h2m-26 1h1m3 0h1m3 0h1m7 0h2m1 0h1m5 0h1m-22 1h1m6 0h2m3 0h3m-14 1h2m1 0h1m3 0h1m1 0h1m8 0h1m-18 1h1m7 0h1m4 0h1m4 0h1m-24 1h2m1 0h1m1 0h1m3 0h1m3 0h1m1 0h1m3 0h1m-21 1h5m1 0h1m4 0h1m9 0h2m-22 1h1m3 0h2m4 0h1m4 0h1m2 0h1m1 0h1m-22 1h1m2 0h1m1 0h1m2 0h1m9 0h1m3 0h1m2 0h1m-26 1h1m2 0h1m4 0h1m2 0h1m5 0h1m2 0h3m-20 1h1m11 0h1m3 0h2m-13 1h1m2 0h1m1 0h1m6 0h1m1 0h1m-22 1h1m1 0h1m1 0h1m3 0h2m3 0h1m2 0h1m-15 1h1m4 0h3m2 0h2m3 0h1m-17 1h1m4 0h3m2 0h2m2 0h1m4 0h1m-14 1h2m7 0h1m3 0h1m-14 1h1m5 0h3m1 0h2m-17 1h1m4 0h1m7 0h3m-19 1h2m2 0h2m2 0h1m1 0h1m1 0h1m2 0h1m1 0h1m-14 1h2m1 0h2m2 0h1m2 0h1m1 0h1m-15 1h1m1 0h1m3 0h4m3 0h1m3 0h1m-19 1h1m12 0h1m3 0h1m-19 1h1m6 0h2m4 0h1m2 0h1m-13 1h1m2 0h1m3 0h1m3 0h2m-12 1h1m5 0h1m5 0h2m-16 1h1m4 0h1m3 0h1m1 0h1m-14 1h1m6 0h1m2 0h1m4 0h1m-5 1h1m2 0h1m-11 1h1m3 0h1m-5 1h1m1 0h1m5 0h1m-14 1h2m4 0h1m8 0h1m-15 1h1m4 0h2m-8 1h2m2 0h2m4 0h2m-8 1h1m-2 1h1m3 0h1m2 0h1m1 0h1m1 0h1m-14 1h1m5 0h1m2 0h1m3 0h1m-10 1h1m4 0h1m-11 1h1m3 0h1m2 0h2m1 1h1m1 0h2m-14 1h1m3 0h2m7 0h2m-15 1h1m3 0h1m-4 1h1m1 0h1m5 0h1m-10 1h1m2 0h1m1 0h1m6 0h1m-9 1h2m1 0h1m2 0h1m-6 1h1m2 0h1m4 0h1" stroke="#fff018" fill="none"/>
<path d="M113 109.5h2m-3 1h4m-6 1h5m-5 1h1m1 0h3m-7 1h1m1 0h3m-7 1h1m1 0h2m1 0h2m-10 1h1m1 0h1m1 0h1m1 0h2m1 0h1m-13 1h11m-13 1h1m3 0h1m1 0h4m1 0h3m-15 1h8m1 0h5m-17 1h3m3 0h1m3 0h2m1 0h3m-18 1h2m1 0h7m1 0h7m-20 1h2m2 0h7m1 0h3m1 0h3m-21 1h3m1 0h5m1 0h10m-21 1h1m1 0h2m1 0h1m1 0h2m2 0h9m1 0h1m-24 1h5m1 0h1m1 0h1m1 0h4m1 0h5m1 0h1m-22 1h5m2 0h4m1 0h1m2 0h1m1 0h2m1 0h2m-22 1h1m1 0h4m1 0h5m1 0h2m1 0h2m1 0h2m-21 1h2m1 0h1m1 0h7m1 0h8m-21 1h1m1 0h2m3 0h8m2 0h3m-19 1h2m1 0h9m2 0h4m-17 1h5m1 0h1m1 0h1m1 0h7m-16 1h4m1 0h1m1 0h3m1 0h1m1 0h2m-17 1h1m3 0h4m1 0h3m2 0h3m-18 1h3m1 0h5m1 0h4m2 0h2m-18 1h6m3 0h2m2 0h4m-17 1h1m2 0h14m-15 1h1m2 0h1m1 0h5m1 0h1m1 0h1m-16 1h2m1 0h2m1 0h1m3 0h5m-14 1h3m1 0h6m3 0h1m-15 1h5m3 0h6m-14 1h8m1 0h1m2 0h2m-14 1h4m1 0h2m1 0h2m1 0h2m-13 1h4m2 0h1m1 0h1m1 0h3m-13 1h2m1 0h2m1 0h5m-7 1h2m1 0h5m-12 1h3m1 0h1m1 0h1m1 0h3m-11 1h2m3 0h1m1 0h4m-11 1h4m1 0h2m1 0h2m-10 1h2m1 0h2m2 0h3m-9 1h1m2 0h1m1 0h1m1 0h1m-9 1h1m1 0h4m1 0h1m-8 1h1m3 0h4m-6 1h6m-7 1h3m1 0h2m-7 1h6m-5 1h3m-4 1h6m-5 1h4m-5 1h3m1 0h1m-5 1h2m1 0h2m-4 1h4m-5 1h5m-5 1h2m1 0h2m-4 1h3m-4 1h1m1 0h1" stroke="#fff018" fill="none"/>
<path d="M113 125.5h1m-4 3h1m1 0h1m1 2h1m-7 1h1m5 0h1m0 1h1m-12 1h1m4 0h1m3 0h1m-1 1h1m-14 1h1m5 1h2m4 0h2m1 0h1m-10 2h1m5 0h1m-13 1h1m7 0h1m2 0h1m-2 1h1m-11 2h2m14 0h1m3 0h1m-18 2h1m5 0h1m-1 1h1m3 0h2m1 0h1m-18 1h1m7 0h1m4 0h1m3 0h1m-9 1h1m6 0h1m-13 1h1m-6 1h2m2 0h1m9 0h1m-12 1h1m10 0h1m-15 1h1m6 0h1m3 0h1m-13 1h1m7 0h1m4 0h1m6 0h1m1 0h1m-16 1h1m2 0h1m2 0h1m2 0h1m-16 1h1m2 0h1m5 2h1m11 0h1m-18 1h1m3 0h1m5 0h1m4 0h2m-19 1h1m1 0h1m2 0h1m-9 1h1m18 0h2m-17 1h1m2 0h1m2 0h1m3 0h1m-14 1h1m3 0h2m7 0h1m4 0h1m-11 1h1m3 0h1m5 0h1m-19 1h1m14 0h1m1 0h1m-7 1h1m3 0h1" stroke="#fff018" fill="none"/>
<path d="M86 166.5h1m4 0h1m4 0h1m1 0h1m1 0h1m4 0h1m9 0h2m3 0h1m-37 1h1m5 0h2m2 0h2m3 0h1m6 0h1m4 0h1m3 0h2m4 0h1m-39 1h3m2 0h1m3 0h2m2 0h1m7 0h2m1 0h1m4 0h1m5 0h2m-35 1h1m1 0h2m4 0h1m2 0h1m3 0h1m1 0h2m1 0h1m6 0h1m1 0h1m2 0h1m-35 1h2m1 0h1m2 0h1m4 0h2m7 0h1m6 0h1m1 0h2m1 0h2m5 0h1m-45 1h1m1 0h1m4 0h2m2 0h1m1 0h1m1 0h1m8 0h1m3 0h1m6 0h1m3 0h1m3 0h1m-42 1h2m4 0h1m2 0h1m2 0h1m7 0h1m2 0h3m1 0h2m1 0h1m2 0h2m7 0h1m-46 1h2m3 0h1m9 0h1m3 0h1m2 0h1m8 0h1m1 0h1m4 0h2m1 0h1m-45 1h2m1 0h2m6 0h1m2 0h1m9 0h1m1 0h1m1 0h1m2 0h1m8 0h1m1 0h2m1 0h1m-39 1h1m2 0h1m4 0h1m2 0h2m17 0h1m6 0h2m-42 1h1m5 0h2m1 0h2m1 0h1m1 0h1m3 0h1m1 0h1m1 0h2m1 0h1m1 0h2m6 0h1m5 0h1m-48 1h1m1 0h1m4 0h1m1 0h1m3 0h2m2 0h1m2 0h1m1 0h1m1 0h1m3 0h1m4 0h1m8 0h1m-42 1h1m1 0h1m1 0h1m2 0h2m1 0h1m8 0h1m9 0h1m2 0h1m5 0h1m5 0h1m-43 1h1m4 0h1m1 0h1m4 0h1m1 0h1m3 0h2m1 0h1m2 0h1m17 0h1m-47 1h1m3 0h1m4 0h1m5 0h2m5 0h2m2 0h2m5 0h1m10 0h1m-49 1h1m2 0h1m4 0h1m2 0h2m1 0h1m9 0h1m2 0h2m4 0h1m2 0h1m6 0h1m5 0h1m-49 1h1m7 0h3m1 0h2m3 0h1m4 0h1m22 0h2m1 0h1m-43 1h2m3 0h1m1 0h2m3 0h1m2 0h1m1 0h2m1 0h1m3 0h1m1 0h2m4 0h2m4 0h1m-42 1h1m7 0h2m2 0h1m3 0h1m7 0h1m13 0h1m1 0h1m1 0h3m-52 1h2m8 0h1m7 0h1m1 0h1m1 0h2m4 0h1m1 0h1m12 0h1m-45 1h2m7 0h2m2 0h3m3 0h1m1 0h1m2 0h3m1 0h2m10 0h1m5 0h1m-49 1h2m2 0h1m1 0h1m2 0h1m3 0h1m5 0h2m3 0h1m3 0h1m1 0h1m3 0h1m2 0h2m3 0h1m1 0h1m1 0h1m3 0h1m-40 1h1m3 0h1m5 0h1m5 0h1m1 0h1m1 0h1m1 0h1m13 0h1m-40 1h3m4 0h1m1 0h4m1 0h1m9 0h1m1 0h1m2 0h1m7 0h3m-49 1h1m1 0h1m5 0h1m1 0h1m4 0h1m4 0h1m1 0h1m4 0h3m1 0h2m1 0h1m5 0h1m2 0h1m1 0h1m-44 1h1m6 0h2m4 0h1m1 0h1m4 0h1m2 0h1m2 0h1m7 0h3m1 0h1m-37 1h1m1 0h1m9 0h2m1 0h1m4 0h1m2 0h1m5 0h1m2 0h1m-31 1h2m3 0h1m15 0h1m4 0h1m-26 1h1m4 0h1m1 0h2m2 0h1m6 0h2m4 0h1m-24 1h1m7 0h4m3 0h1" stroke="#ff2d0f" fill="none"/>
<path d="M62 189L64 198L78 197L92 193L106 187L114 182L118 175L116 170L110.1 166.1L84.9 166.1Z" fill="#ff2d0f"/>
<path d="M112 166.5h2m1 0h1m-34 1h1m33 0h1m-36 1h2m31 0h5m-39 1h2m33 0h1m1 0h1m0 1h1m-41 1h1m-2 1h1m39 0h1m2 0h1m-44 1h1m41 0h1m-45 1h1m42 0h2m-1 1h1m-1 1h1m-48 1h2m42 1h2m1 0h1m-51 1h2m47 0h1m-50 1h1m-3 1h1m46 0h1m-51 1h3m46 0h1m-50 1h2m47 0h2m-50 1h1m45 0h1m1 0h1m-52 1h2m48 0h1m-6 1h1m2 0h2m-53 1h2m1 0h1m42 0h1m-47 1h4m42 0h2m-48 1h1m40 0h2m3 0h1m1 0h1m-47 1h1m38 0h2m-42 1h2m32 0h1m1 0h4m1 0h1m-42 1h1m35 0h1m4 0h1m-42 1h3m26 0h1m3 0h2m1 0h2m-38 1h1m24 0h1m2 0h1m1 0h2m-5 1h1m2 0h3m-32 1h3m15 0h3m-21 1h2m8 0h3m-12 1h1m2 0h1" stroke="#ff2d0f" fill="none"/>
<path d="M100 166.5h4m3 0h1m9 0h1m-28 1h1m2 0h1m5 0h1m2 0h1m1 0h1m10 0h1m-31 1h1m1 0h1m7 0h1m8 0h1m4 0h2m7 0h1m-27 1h1m4 0h1m2 0h1m11 0h1m3 0h1m-37 1h1m6 0h1m3 0h2m8 0h3m1 0h2m8 0h1m-36 1h2m3 0h1m3 0h1m1 0h1m2 0h2m2 0h1m1 0h1m1 0h4m2 0h1m7 0h1" stroke="#303030" fill="none"/>
<path d="M93 166.5h1m11 0h1m2 5h1m-29 1h1m4 0h1m20 0h1m-26 1h1m10 1h1m5 0h1m-2 1h1m0 1h1m-3 2h1m8 0h1m-33 1h1m-5 3h1m37 0h1m-35 1h1m16 0h1m9 0h1m5 0h2m-14 1h1m6 0h1m-12 2h1m-20 1h1m4 0h1m-8 1h1m9 0h1m11 2h1m-27 1h1m2 0h1m2 3h1m2 2h1m-11 1h1" stroke="#303030" fill="none"/>
<path d="M118 166.5h2m0 1h1m1 0h1m-10 1h1m9 0h1m-12 1h2m7 0h1m-1 1h1m1 0h2m-10 1h1m1 0h1m3 0h2m-1 1h1m-3 1h1" stroke="#ff2d0f" fill="none"/>
<path d="M55 191.5h1m0 1h1m-3 3h1m0 2h1m5 0h1m-3 1h1m7 0h1m6 0h1m-11 1h1m1 0h1m6 0h2m-14 1h1m1 0h1m-8 2h1" stroke="#6e6e6e" fill="none"/></g>
<g transform="translate(-1.1,0)">
<path d="M39.4 12H221.4V209.1H39.4Z" fill="none" stroke="#a8a8a8" stroke-width="1.25"/>
<text transform="translate(131.4,9.8) scale(0.95,1)" text-anchor="middle" class="tt">48-72h</text>
<path d="M37.5 209.0H39.5" stroke="#bdbdbd" stroke-width="1"/>
<text transform="translate(37.6,208.6) scale(0.845,1)" text-anchor="end" class="tk">10.0</text>
<path d="M37.5 159.2H39.5" stroke="#bdbdbd" stroke-width="1"/>
<text transform="translate(37.6,160.1) scale(0.845,1)" text-anchor="end" class="tk">100.0</text>
<path d="M37.5 109.4H39.5" stroke="#bdbdbd" stroke-width="1"/>
<text transform="translate(37.6,110.4) scale(0.845,1)" text-anchor="end" class="tk">1000.0</text>
<path d="M39.4 209.5V211.5" stroke="#bdbdbd" stroke-width="1"/>
<text transform="translate(39.4,218.4) scale(0.845,1)" text-anchor="middle" class="tk">10.4</text>
<path d="M73.9 209.5V211.5" stroke="#bdbdbd" stroke-width="1"/>
<text transform="translate(73.9021,218.4) scale(0.845,1)" text-anchor="middle" class="tk">100.0</text>
<path d="M109.0 209.5V211.5" stroke="#bdbdbd" stroke-width="1"/>
<text transform="translate(109.002,218.4) scale(0.845,1)" text-anchor="middle" class="tk">1000.0</text>
<path d="M144.1 209.5V211.5" stroke="#bdbdbd" stroke-width="1"/>
<text transform="translate(144.102,218.4) scale(0.845,1)" text-anchor="middle" class="tk">10000.0</text>
<path d="M179.2 209.5V211.5" stroke="#bdbdbd" stroke-width="1"/>
<text transform="translate(179.202,218.4) scale(0.845,1)" text-anchor="middle" class="tk">100000.0</text>
<path d="M220.2 209.5V211.5" stroke="#bdbdbd" stroke-width="1"/>
<text transform="translate(220.233,218.4) scale(0.845,1)" text-anchor="middle" class="tk">1475576.8</text>
<text transform="translate(129.7,229.2) scale(0.845,1)" text-anchor="middle" class="tk">Mean Intensity mCherry_BckgroCorr</text>
<text transform="translate(8.3,123.4) rotate(-90) scale(0.845,1)" text-anchor="middle" class="tk">Mean Intensity YFP_BckgroCorr</text>
<rect x="159.8" y="15.9" width="7" height="7" fill="#fff018"/>
<text transform="translate(169.5,23) scale(0.845,1)" class="lg">G2</text>
<text transform="translate(218.5,23) scale(0.845,1)" text-anchor="end" class="lg">5.60</text>
<rect x="159.8" y="26.5" width="7" height="7" fill="#00f232"/>
<text transform="translate(169.5,33.6) scale(0.845,1)" class="lg">S</text>
<text transform="translate(218.5,33.6) scale(0.845,1)" text-anchor="end" class="lg">46.50</text>
<rect x="159.8" y="37.1" width="7" height="7" fill="#ff2d0f"/>
<text transform="translate(169.5,44.2) scale(0.845,1)" class="lg">G1</text>
<text transform="translate(218.5,44.2) scale(0.845,1)" text-anchor="end" class="lg">47.19</text>
<rect x="159.8" y="47.7" width="7" height="7" fill="#8c8c8c"/>
<text transform="translate(169.5,54.8) scale(0.845,1)" class="lg">48-72h</text>
<text transform="translate(218.5,54.8) scale(0.845,1)" text-anchor="end" class="lg">100.00</text>
<path d="M85.4 60.8 L51.2 91.7 L51.9 192.7 L86 165.3Z" fill="none" stroke="#bdbdbd" stroke-width="1"/>
<path d="M86 71.3 L132.2 85.4 L152.6 164.9 L86 165.3Z" fill="none" stroke="#bdbdbd" stroke-width="1"/>
<path d="M86 166.1 L145.8 166.1 L136.9 190.3 L63.3 199.2 L57.8 187.9" fill="none" stroke="#bdbdbd" stroke-width="1"/>
<g>
<rect x="87.8" y="48.5" width="16" height="9" fill="#000"/>
<text transform="translate(95.8,56) scale(0.93,1)" text-anchor="middle" class="rl">R02</text>
<rect x="155" y="152.3" width="15" height="9.6" fill="#000"/>
<text transform="translate(162.5,160) scale(0.93,1)" text-anchor="middle" class="rl">R03</text>
<rect x="149.6" y="155.2" width="4.2" height="6" fill="#000"/>
<text transform="translate(151.7,160.8) scale(1,1)" text-anchor="middle" class="rb">B</text>
</g>
</g>
</g>
<g transform="translate(0,241)">
<rect x="0" y="0" width="243" height="230" fill="#303030"/>
<g filter="url(#bl)"><path d="M74 117.5h1m1 0h2m3 0h2m1 0h1m-13 1h1m1 0h1m2 0h2m1 0h1m1 0h2m1 0h1m-17 1h2m1 0h3m2 0h3m1 0h3m-14 1h2m2 0h3m4 0h2m2 0h1m-16 1h1m1 0h1m1 0h9m2 0h1m-19 1h2m1 0h1m2 0h1m2 0h3m2 0h1m1 0h1m-19 1h4m1 0h1m4 0h2m2 0h1m3 0h3m-21 1h1m1 0h1m1 0h1m3 0h3m2 0h2m2 0h1m-19 1h1m1 0h1m2 0h4m1 0h2m1 0h3m1 0h5m-21 1h4m6 0h2m3 0h1m4 0h1m-21 1h1m1 0h1m2 0h1m1 0h2m4 0h1m1 0h2m-19 1h1m1 0h1m3 0h1m7 0h2m4 0h1m1 0h1m-23 1h1m1 0h1m2 0h3m1 0h1m3 0h1m1 0h2m1 0h2m1 0h1m-22 1h2m1 0h2m2 0h1m2 0h4m3 0h2m1 0h2m-23 1h1m1 0h2m2 0h1m2 0h2m1 0h1m2 0h1m3 0h1m-19 1h2m3 0h2m1 0h1m5 0h3m1 0h1m-21 1h1m2 0h2m1 0h1m2 0h1m3 0h2m1 0h1m2 0h5m-23 1h2m1 0h1m1 0h8m2 0h2m3 0h3m-24 1h2m1 0h6m2 0h1m1 0h2m1 0h6m-17 1h1m2 0h1m3 0h1m1 0h1m1 0h1m5 0h3m-26 1h4m2 0h3m2 0h2m4 0h2m2 0h1m1 0h3m-27 1h6m2 0h2m2 0h3m4 0h1m5 0h2m-25 1h4m1 0h2m2 0h1m1 0h3m1 0h2m2 0h1m1 0h2m-24 1h3m3 0h2m2 0h3m1 0h8m1 0h1m1 0h1m-28 1h1m1 0h2m1 0h3m1 0h2m3 0h2m1 0h1m1 0h3m1 0h1m-24 1h1m1 0h1m1 0h1m4 0h1m1 0h4m2 0h1m1 0h5m1 0h2m-27 1h5m2 0h1m1 0h2m1 0h2m1 0h1m1 0h3m2 0h1m3 0h2m-29 1h2m3 0h1m2 0h1m2 0h1m1 0h1m2 0h4m1 0h4m3 0h1m-29 1h2m5 0h1m1 0h1m5 0h1m2 0h11m-30 1h5m2 0h1m2 0h1m5 0h1m1 0h3m4 0h1m1 0h3m-31 1h5m1 0h3m3 0h1m3 0h1m1 0h1m2 0h1m4 0h3m1 0h1m-28 1h5m2 0h3m2 0h5m1 0h1m6 0h2m-30 1h2m2 0h1m1 0h1m1 0h2m3 0h2m1 0h2m4 0h2m2 0h2m-28 1h1m5 0h2m3 0h3m1 0h2m1 0h1m2 0h1m6 0h2m-26 1h2m3 0h1m2 0h1m1 0h2m1 0h2m1 0h3m1 0h1m1 0h3m-30 1h1m2 0h1m1 0h1m1 0h1m1 0h1m1 0h1m5 0h2m1 0h2m1 0h3m1 0h1m2 0h1m-28 1h2m1 0h3m1 0h1m2 0h1m2 0h1m2 0h1m1 0h1m1 0h1m3 0h2m-23 1h1m5 0h1m1 0h2m1 0h3m2 0h1m1 0h3m1 0h3m-30 1h8m4 0h1m1 0h5m1 0h1m3 0h1m3 0h3m-30 1h2m1 0h2m2 0h3m3 0h1m3 0h2m2 0h2m1 0h1m2 0h1m-30 1h2m3 0h2m1 0h1m1 0h1m3 0h2m2 0h2m2 0h2m1 0h2m1 0h1m1 0h2m-31 1h3m1 0h1m6 0h1m2 0h1m3 0h2m3 0h1m1 0h1m1 0h3m-31 1h1m2 0h1m3 0h2m1 0h1m1 0h2m2 0h2m4 0h2m1 0h1m-26 1h2m2 0h2m5 0h3m2 0h1m2 0h1m1 0h1m2 0h2m1 0h1m1 0h2m-31 1h2m3 0h1m1 0h1m1 0h2m1 0h1m2 0h4m1 0h3m1 0h1m4 0h3m-31 1h2m1 0h2m1 0h1m1 0h1m2 0h3m1 0h1m1 0h2m1 0h1m2 0h4m3 0h1m-29 1h1m3 0h1m2 0h3m1 0h1m1 0h3m2 0h2m1 0h1m2 0h2m1 0h2m-31 1h3m1 0h1m2 0h1m2 0h2m3 0h1m4 0h2m6 0h3m-30 1h1m3 0h2m2 0h1m2 0h1m2 0h1m3 0h3m1 0h4m2 0h1m-28 1h1m2 0h1m1 0h4m2 0h2m3 0h1m2 0h1m3 0h2m-28 1h1m5 0h2m1 0h2m2 0h4m3 0h2m2 0h1m-25 1h5m3 0h4m2 0h3m2 0h1m5 0h1m-26 1h4m1 0h3m3 0h2m1 0h1m3 0h1m1 0h1m3 0h2m-26 1h1m3 0h3m1 0h4m2 0h3m1 0h2m-18 1h2m2 0h1m2 0h2m2 0h1m1 0h3m1 0h1m1 0h3m-22 1h1m1 0h1m1 0h1m1 0h1m2 0h2m1 0h2m1 0h4m-21 1h2m4 0h3m1 0h3m2 0h2m1 0h2m-20 1h2m2 0h1m1 0h1m1 0h2m2 0h1m2 0h1m-16 1h1m1 0h5m4 0h1m1 0h1m2 0h1m-16 1h1m1 0h2m4 0h4m2 0h2m-4 1h3m-15 1h4m1 0h1m2 0h2m3 0h1m-14 1h2m4 0h1m-8 1h1m1 0h2m1 0h2m3 0h1m-11 1h1m4 0h3m2 0h1m-11 1h1m3 0h6m-9 1h1m1 0h1m1 0h4m-7 1h5m-7 1h1m1 0h1m1 0h2m-5 1h1m1 0h1m-4 1h1m0 2h1" stroke="#00f232" fill="none"/>
<path d="M77 118L72 121L69 128L66 138L61 148L58 158L57.5 170L59 186L62.1 183.7L86 164.5L85.7 117Z" fill="#00f232"/>
<path d="M76 124.5h1m1 0h1m-5 1h1m-5 1h1m1 3h1m12 0h1m-15 5h1m12 0h1m-17 1h1m2 0h1m4 1h1m2 0h1m4 0h1m-9 1h1m5 0h1m0 1h1m-17 1h1m-3 1h2m9 3h1m5 0h1m-14 2h1m-9 1h1m13 0h1m3 2h1m-13 1h1m11 0h1m-4 1h1m-13 1h1m7 0h1m4 1h1m3 0h1m3 0h1m-26 2h1m5 0h1m-5 2h1m16 0h1m-12 1h1m-8 2h1m20 2h1m-8 1h1m-10 1h1m5 1h1m-7 1h1m-2 1h1m12 0h1m-5 1h1m4 2h1m-18 5h1m9 0h1m-11 9h1m-4 2h1" stroke="#303030" fill="none"/>
<path d="M113 104.5h1m2 0h2m-7 1h1m-6 1h1m2 0h1m3 0h2m1 0h1m-10 1h1m2 0h1m1 0h3m3 0h1m-22 1h1m5 0h1m2 0h5m3 0h1m-23 1h1m4 0h2m1 0h2m3 0h2m1 0h1m5 0h1m2 0h2m-31 1h1m7 0h1m5 0h1m3 0h1m1 0h2m2 0h3m-27 1h1m1 0h1m4 0h1m1 0h1m1 0h1m1 0h1m7 0h3m3 0h1m-30 1h1m1 0h1m3 0h1m3 0h1m2 0h1m2 0h1m4 0h2m2 0h1m-25 1h1m1 0h1m3 0h2m1 0h2m1 0h1m5 0h1m2 0h3m1 0h1m1 0h1m-25 1h2m1 0h2m3 0h4m1 0h4m4 0h3m1 0h1m-24 1h1m1 0h1m2 0h1m6 0h2m2 0h1m2 0h5m-30 1h1m5 0h2m2 0h2m5 0h1m1 0h1m4 0h1m1 0h1m-22 1h1m5 0h2m1 0h3m9 0h1" stroke="#fff018" fill="none"/>
<path d="M114 105.5h1m1 0h1m-4 1h1m2 0h1m-9 1h1m2 0h1m2 0h4m-13 1h2m3 0h2m-13 1h2m4 0h1m1 0h1m1 0h1m1 0h4m1 0h1m-22 1h1m1 0h2m3 0h1m4 0h1m1 0h4m1 0h3m-24 1h1m4 0h1m1 0h1m2 0h3m2 0h1m1 0h1m3 0h3m-30 1h1m2 0h1m4 0h1m3 0h1m1 0h1m6 0h4m2 0h1m1 0h1m2 0h1m-31 1h2m4 0h1m1 0h1m3 0h1m2 0h1m2 0h1m3 0h1m1 0h1m2 0h2m1 0h1m-32 1h1m4 0h1m2 0h1m2 0h1m1 0h1m7 0h1m1 0h3m1 0h3m-30 1h1m1 0h2m5 0h2m5 0h2m4 0h1m1 0h4m2 0h1m-32 1h6m2 0h1m1 0h2m2 0h1m1 0h2m1 0h2m2 0h2m5 0h1m1 0h1m-32 1h3m2 0h1m1 0h1m2 0h2m1 0h1m1 0h3m1 0h1m1 0h1m1 0h3m1 0h2m1 0h1m-29 1h1m1 0h1m3 0h2m2 0h2m3 0h6m2 0h1m3 0h1m-26 1h1m1 0h1m1 0h2m2 0h2m4 0h1m1 0h1m3 0h1m2 0h1m-23 1h1m2 0h1m4 0h1m1 0h3m2 0h1m2 0h1m1 0h1m1 0h5m-32 1h2m2 0h3m3 0h1m3 0h5m4 0h1m1 0h2m1 0h1m-29 1h2m1 0h1m2 0h1m1 0h1m1 0h2m4 0h1m2 0h3m5 0h4m-30 1h1m1 0h2m1 0h3m3 0h2m2 0h2m1 0h1m2 0h2m1 0h1m1 0h1m-26 1h1m1 0h1m2 0h2m5 0h1m4 0h1m3 0h1m-22 1h1m1 0h1m2 0h3m2 0h1m3 0h2m1 0h2m1 0h1m3 0h1m3 0h1m-28 1h1m2 0h1m2 0h1m3 0h1m2 0h1m4 0h2m1 0h2m2 0h1m-26 1h3m2 0h1m1 0h1m1 0h1m1 0h1m6 0h3m4 0h2m-28 1h4m1 0h2m3 0h3m3 0h3m3 0h1m3 0h1m-23 1h1m1 0h1m5 0h1m9 0h1m3 0h1m-26 1h1m2 0h1m3 0h1m2 0h1m1 0h1m1 0h1m3 0h1m1 0h2m1 0h2m-24 1h1m5 0h1m3 0h2m1 0h1m2 0h1m1 0h2m2 0h1m2 0h1m-26 1h2m2 0h1m3 0h1m1 0h3m6 0h1m3 0h1m-25 1h1m2 0h1m3 0h2m1 0h3m4 0h1m2 0h1m1 0h1m1 0h1m-20 1h1m1 0h1m1 0h1m1 0h1m2 0h2m1 0h1m1 0h3m3 0h1m-23 1h2m2 0h2m2 0h1m1 0h1m2 0h4m1 0h1m3 0h1m-24 1h2m2 0h1m2 0h3m2 0h2m-15 1h1m3 0h1m3 0h2m1 0h2m7 0h1m2 0h1m-24 1h4m2 0h1m3 0h2m1 0h1m2 0h1m2 0h1m1 0h1m-22 1h8m2 0h1m1 0h6m1 0h1m1 0h1m-21 1h2m2 0h1m9 0h1m1 0h1m1 0h1m1 0h1m-20 1h3m3 0h1m3 0h1m2 0h1m1 0h2m4 0h1m-23 1h1m1 0h1m1 0h1m4 0h1m4 0h1m1 0h1m1 0h2m2 0h1m-22 1h3m2 0h1m2 0h1m1 0h2m3 0h1m1 0h2m1 0h3m-23 1h1m4 0h3m1 0h3m1 0h2m5 0h1m2 0h1m-21 1h3m3 0h1m1 0h1m5 0h1m1 0h1m1 0h1m-22 1h4m2 0h1m1 0h3m1 0h1m7 0h1m2 0h1m-23 1h3m2 0h1m1 0h4m1 0h1m1 0h1m5 0h1m2 0h1m-23 1h1m2 0h3m1 0h1m1 0h2m5 0h2m1 0h2m-21 1h1m6 0h1m1 0h3m2 0h1m4 0h1m2 0h1m-21 1h5m1 0h1m1 0h1m1 0h1m1 0h1m3 0h5m-23 1h1m2 0h1m1 0h1m1 0h3m2 0h1m2 0h1m4 0h2m1 0h1m-16 1h4m2 0h1m1 0h3m2 0h1m-21 1h1m3 0h1m4 0h1m1 0h2m2 0h1m2 0h1m1 0h1m2 0h1m-23 1h2m1 0h1m2 0h1m1 0h2m4 0h1m7 0h2m-24 1h3m2 0h4m3 0h1m1 0h3m1 0h2m1 0h3m-24 1h5m2 0h2m1 0h1m5 0h1m3 0h1m1 0h1m1 0h1m-25 1h1m1 0h1m2 0h1m1 0h1m1 0h2m3 0h1m3 0h4m2 0h2m-25 1h1m2 0h1m2 0h1m1 0h1m1 0h3m4 0h2m2 0h4m-22 1h2m4 0h1m4 0h1m1 0h2m4 0h2m-23 1h1m1 0h2m1 0h2m3 0h2m7 0h2m1 0h1m2 0h1m-27 1h1m2 0h1m4 0h2m2 0h1m6 0h1m7 0h1m-24 1h1m1 0h2m1 0h2m2 0h1m4 0h3m2 0h1m1 0h2m-26 1h1m1 0h1m1 0h1m1 0h3m8 0h2m3 0h1m1 0h2m-25 1h1m5 0h1m6 0h1" stroke="#fff018" fill="none"/>
<path d="M97 158L99 148L102 135L105 124L106 117L100 116L92 118L86 121L86 164.5L97 164.4Z" fill="#fff018"/>
<path d="M97 113.5h5m-8 1h1m1 0h2m1 0h3m1 0h1m2 0h2m-14 1h1m1 0h1m1 0h1m1 0h1m2 0h6m-21 1h3m2 0h1m1 0h5m5 0h1m-20 1h1m2 0h1m3 0h1m11 0h3m-22 1h4m18 0h1m-23 1h3m17 0h3m-4 1h1m2 0h1m-4 1h1m-1 1h3m-1 2h1m-4 1h1m1 0h1m0 1h1m-2 2h1m-4 1h1m1 1h2m-3 1h2m-4 2h1m2 0h1m-4 1h2m1 0h1m-4 1h3m-3 1h2m-2 1h1m1 0h1m-4 1h1m1 0h2m-4 1h1m-2 1h3m-3 1h2m-1 1h1m-2 1h2m1 0h1m-4 1h1m0 1h1m-1 1h1m-1 1h1m-1 1h1m-3 1h3m-2 1h2m-4 1h3m-3 1h3m-2 1h1m0 1h1m-3 1h1m-2 1h1m-1 1h1m1 0h1m-3 1h3m-2 1h2m-3 1h2m-1 1h1m-2 1h1m0 1h2" stroke="#fff018" fill="none"/>
<path d="M104 119.5h1m-5 1h1m2 0h1m-18 1h1m13 0h1m-11 2h1m-1 3h1m11 0h1m-15 1h1m-1 1h1m13 0h1m-10 2h1m3 1h1m-10 7h1m10 2h1m-6 1h1m3 2h1m-9 1h1m-4 1h1m2 1h2m2 0h1m-1 6h1m2 1h1m-4 1h1m-6 7h1m2 2h1" stroke="#303030" fill="none"/>
<path d="M112 165.5h1m3 0h1m2 0h2m1 0h1m4 0h1m-11 1h1m1 0h1m1 0h1m1 0h1m2 0h1m-14 1h1m1 0h1m8 0h2m2 0h1m-17 1h2m1 0h1m4 0h1m1 0h1m3 0h1m-10 1h2m4 0h5m-11 1h2m-7 1h1m5 0h1m2 0h1m5 0h1m-16 1h1m1 0h1m1 0h1m3 0h2m5 0h1m-16 1h1m3 0h1m1 0h1m6 0h2m-14 1h1m4 0h2m1 0h1m1 0h1m4 0h1m-14 1h3m3 0h1m-10 1h1m3 0h1m3 0h1m4 0h1m1 0h1m1 0h1m-18 1h2m1 0h1m1 0h1m2 0h1m1 0h1m-9 1h2m7 0h1m1 0h1m-13 1h1m1 0h1m2 0h1m7 0h1m-13 1h1m5 0h1m1 0h1m-11 1h2m4 0h2m1 0h1m-8 1h1m1 0h1m6 0h1m-10 1h5m-6 1h1m4 0h1m-6 1h1m1 0h3m1 0h1m-7 1h1m-2 1h2m-2 1h1" stroke="#ff2d0f" fill="none"/>
<path d="M63 189L63 197.8L63.3 198.4L76.7 196.8L100 193L112 188L120 180L122 172L117.2 165.3L86 165.3L84.9 166.2Z" fill="#ff2d0f"/>
<path d="M120 165.5h1m0 3h1m-1 1h2m-45 1h1m1 0h1m42 0h1m-2 1h2m-48 1h1m45 0h1m1 0h1m-49 1h1m45 0h1m-49 1h3m45 0h1m-49 1h1m45 2h1m2 0h1m-54 1h1m-1 1h1m1 0h1m47 0h1m1 0h1m-3 1h1m-55 1h1m2 0h2m49 0h1m1 0h1m-5 1h1m-52 1h1m52 0h1m-3 1h1m-55 1h2m49 0h1m1 0h1m-54 1h1m48 0h2m2 0h1m-57 1h1m2 0h1m48 0h1m-54 1h1m50 0h2m-5 1h1m1 0h1m2 0h1m-52 1h1m46 0h1m3 0h1m-53 1h2m40 0h1m1 0h1m2 0h1m2 0h1m-50 1h1m41 0h1m-44 1h1m35 0h3m1 0h1m2 0h1m1 0h1m-45 1h1m29 0h1m1 0h1m2 0h1m-17 2h1" stroke="#ff2d0f" fill="none"/>
<path d="M58 188.5h1m-4 2h2m-4 1h1m-1 1h2m1 0h1m-5 1h1m1 0h2m-1 1h1m42 0h1m-47 1h1m3 0h1m34 0h1m6 0h1m-45 1h1m2 0h1m25 0h1m4 0h3m1 0h3m1 0h1m2 0h1m-43 1h1m3 0h1m12 0h1m2 0h2m2 0h2m2 0h2m2 0h1m2 0h3m3 0h1m-45 1h2m5 0h1m7 0h1m4 0h2m4 0h1m2 0h2m1 0h1m1 0h1m2 0h1m-38 1h1m3 0h2m3 0h1m4 0h1m1 0h2m2 0h2m1 0h1m1 0h1m3 0h5m-35 1h2m1 0h1m2 0h2m1 0h1m6 0h1m7 0h1m2 0h1m-25 1h1m15 0h1m-20 1h1m1 0h1m3 0h3m4 0h1m1 0h1m1 0h1m-14 1h3m5 0h1m-9 1h1m5 0h1" stroke="#6e6e6e" fill="none"/></g>
<g transform="translate(0,-0.8)">
<path d="M39.4 12H221.4V209.1H39.4Z" fill="none" stroke="#a8a8a8" stroke-width="1.25"/>
<text transform="translate(131.4,9.8) scale(0.95,1)" text-anchor="middle" class="tt">72-96h</text>
<path d="M37.5 209.0H39.5" stroke="#bdbdbd" stroke-width="1"/>
<text transform="translate(37.6,208.6) scale(0.845,1)" text-anchor="end" class="tk">10.0</text>
<path d="M37.5 159.2H39.5" stroke="#bdbdbd" stroke-width="1"/>
<text transform="translate(37.6,160.1) scale(0.845,1)" text-anchor="end" class="tk">100.0</text>
<path d="M37.5 109.4H39.5" stroke="#bdbdbd" stroke-width="1"/>
<text transform="translate(37.6,110.4) scale(0.845,1)" text-anchor="end" class="tk">1000.0</text>
<path d="M39.4 209.5V211.5" stroke="#bdbdbd" stroke-width="1"/>
<text transform="translate(39.4,218.4) scale(0.845,1)" text-anchor="middle" class="tk">10.4</text>
<path d="M73.9 209.5V211.5" stroke="#bdbdbd" stroke-width="1"/>
<text transform="translate(73.9021,218.4) scale(0.845,1)" text-anchor="middle" class="tk">100.0</text>
<path d="M109.0 209.5V211.5" stroke="#bdbdbd" stroke-width="1"/>
<text transform="translate(109.002,218.4) scale(0.845,1)" text-anchor="middle" class="tk">1000.0</text>
<path d="M144.1 209.5V211.5" stroke="#bdbdbd" stroke-width="1"/>
<text transform="translate(144.102,218.4) scale(0.845,1)" text-anchor="middle" class="tk">10000.0</text>
<path d="M179.2 209.5V211.5" stroke="#bdbdbd" stroke-width="1"/>
<text transform="translate(179.202,218.4) scale(0.845,1)" text-anchor="middle" class="tk">100000.0</text>
<path d="M220.2 209.5V211.5" stroke="#bdbdbd" stroke-width="1"/>
<text transform="translate(220.233,218.4) scale(0.845,1)" text-anchor="middle" class="tk">1475576.8</text>
<text transform="translate(129.7,229.2) scale(0.845,1)" text-anchor="middle" class="tk">Mean Intensity mCherry_BckgroCorr</text>
<text transform="translate(8.3,123.4) rotate(-90) scale(0.845,1)" text-anchor="middle" class="tk">Mean Intensity YFP_BckgroCorr</text>
<rect x="159.8" y="15.9" width="7" height="7" fill="#fff018"/>
<text transform="translate(169.5,23) scale(0.845,1)" class="lg">G2</text>
<text transform="translate(218.5,23) scale(0.845,1)" text-anchor="end" class="lg">4.95</text>
<rect x="159.8" y="26.5" width="7" height="7" fill="#00f232"/>
<text transform="translate(169.5,33.6) scale(0.845,1)" class="lg">S</text>
<text transform="translate(218.5,33.6) scale(0.845,1)" text-anchor="end" class="lg">29.15</text>
<rect x="159.8" y="37.1" width="7" height="7" fill="#ff2d0f"/>
<text transform="translate(169.5,44.2) scale(0.845,1)" class="lg">G1</text>
<text transform="translate(218.5,44.2) scale(0.845,1)" text-anchor="end" class="lg">65.12</text>
<rect x="159.8" y="47.7" width="7" height="7" fill="#8c8c8c"/>
<text transform="translate(169.5,54.8) scale(0.845,1)" class="lg">72-96h</text>
<text transform="translate(218.5,54.8) scale(0.845,1)" text-anchor="end" class="lg">100.00</text>
<path d="M85.4 60.8 L51.2 91.7 L51.9 192.7 L86 165.3Z" fill="none" stroke="#bdbdbd" stroke-width="1"/>
<path d="M86 71.3 L132.2 85.4 L152.6 164.9 L86 165.3Z" fill="none" stroke="#bdbdbd" stroke-width="1"/>
<path d="M86 166.1 L145.8 166.1 L136.9 190.3 L63.3 199.2 L57.8 187.9" fill="none" stroke="#bdbdbd" stroke-width="1"/>
<g>
<rect x="87.8" y="48.5" width="16" height="9" fill="#000"/>
<text transform="translate(95.8,56) scale(0.93,1)" text-anchor="middle" class="rl">R02</text>
<rect x="155" y="152.3" width="15" height="9.6" fill="#000"/>
<text transform="translate(162.5,160) scale(0.93,1)" text-anchor="middle" class="rl">R03</text>
<rect x="149.6" y="155.2" width="4.2" height="6" fill="#000"/>
<text transform="translate(151.7,160.8) scale(1,1)" text-anchor="middle" class="rb">B</text>
</g>
</g>
</g>
<g transform="translate(254,241)">
<rect x="0" y="0" width="243" height="230" fill="#303030"/>
<g filter="url(#bl)"><path d="M71 110.5h1m3 0h2m-4 1h2m-1 1h1m-2 2h1m-5 2h1m2 0h1m1 1h1m-5 2h1m4 0h1m-3 1h1m2 0h1m-9 1h1m6 0h1m-7 2h1m-2 1h2" stroke="#00f232" fill="none"/>
<path d="M79 119.5h1m2 0h1m1 0h1m-12 1h1m1 0h1m1 0h4m1 0h1m-12 1h3m3 0h5m1 0h2m-16 1h1m1 0h1m1 0h1m4 0h2m1 0h1m1 0h1m-17 1h1m1 0h2m1 0h2m1 0h1m1 0h1m1 0h2m1 0h3m-20 1h3m5 0h1m3 0h1m1 0h1m3 0h1m-21 1h1m1 0h1m3 0h2m1 0h1m1 0h1m1 0h2m1 0h1m1 0h1m2 0h1m-21 1h3m2 0h2m1 0h1m2 0h4m5 0h1m-22 1h3m2 0h2m1 0h2m2 0h6m4 0h1m-24 1h1m3 0h1m1 0h3m3 0h2m2 0h1m2 0h1m1 0h1m-23 1h1m1 0h1m1 0h1m3 0h1m2 0h1m5 0h1m2 0h1m1 0h1m-21 1h1m1 0h3m1 0h2m2 0h2m1 0h1m3 0h1m1 0h2m1 0h1m-26 1h3m1 0h2m3 0h2m2 0h2m2 0h2m2 0h1m-22 1h2m5 0h1m1 0h1m3 0h2m2 0h1m1 0h1m1 0h1m2 0h2m-27 1h1m1 0h4m1 0h9m2 0h7m-23 1h4m1 0h1m2 0h3m4 0h1m1 0h1m1 0h5m-26 1h4m6 0h1m1 0h1m1 0h1m6 0h3m1 0h1m-25 1h3m1 0h5m1 0h1m1 0h3m2 0h1m2 0h1m-20 1h1m1 0h1m3 0h4m2 0h1m1 0h4m2 0h1m2 0h2m-28 1h2m1 0h1m5 0h1m9 0h1m3 0h2m-25 1h1m1 0h1m1 0h2m1 0h1m2 0h1m2 0h2m1 0h3m3 0h2m2 0h1m-28 1h1m2 0h1m1 0h1m2 0h2m1 0h3m7 0h1m1 0h3m-26 1h4m4 0h1m3 0h1m2 0h3m1 0h1m4 0h4m-28 1h1m1 0h3m6 0h2m2 0h1m1 0h1m1 0h1m1 0h2m3 0h1m-26 1h1m2 0h2m1 0h4m1 0h2m1 0h3m1 0h2m3 0h2m1 0h1m-28 1h3m2 0h1m1 0h1m2 0h8m1 0h4m-24 1h1m3 0h2m1 0h3m1 0h2m4 0h2m1 0h1m5 0h2m-27 1h3m1 0h1m2 0h2m1 0h2m2 0h3m1 0h1m1 0h1m2 0h4m1 0h1m-29 1h1m1 0h1m6 0h2m3 0h2m1 0h4m2 0h2m3 0h1m-29 1h1m4 0h3m3 0h1m2 0h1m4 0h1m3 0h3m-27 1h1m2 0h1m1 0h3m1 0h1m2 0h4m2 0h1m2 0h1m3 0h3m1 0h1m-30 1h3m1 0h1m1 0h1m1 0h2m1 0h2m4 0h3m1 0h3m1 0h3m-28 1h1m2 0h4m3 0h3m2 0h1m2 0h1m1 0h2m2 0h5m-28 1h1m5 0h2m1 0h1m2 0h3m3 0h1m1 0h3m1 0h2m-29 1h1m5 0h3m2 0h8m1 0h1m-21 1h1m3 0h1m2 0h2m1 0h2m2 0h3m1 0h1m2 0h1m1 0h2m1 0h1m2 0h2m-29 1h1m1 0h1m2 0h1m2 0h3m1 0h5m4 0h1m1 0h1m2 0h1m-28 1h1m3 0h2m1 0h2m3 0h3m1 0h2m4 0h3m1 0h3m-29 1h1m2 0h1m1 0h2m2 0h2m1 0h2m2 0h3m2 0h1m1 0h1m3 0h1m-29 1h2m4 0h1m5 0h1m1 0h1m1 0h5m1 0h2m4 0h2m-28 1h2m1 0h2m1 0h1m1 0h2m1 0h3m2 0h3m7 0h1m-27 1h1m1 0h3m2 0h1m2 0h3m1 0h6m1 0h2m2 0h4m-29 1h1m1 0h2m1 0h5m2 0h4m4 0h4m1 0h1m1 0h1m1 0h1m-31 1h1m2 0h1m2 0h6m3 0h1m2 0h2m2 0h2m1 0h1m1 0h1m1 0h2m-29 1h6m1 0h1m4 0h1m2 0h1m3 0h1m2 0h2m2 0h1m1 0h1m-31 1h3m3 0h2m1 0h2m3 0h3m1 0h1m1 0h4m3 0h2m-30 1h1m8 0h2m3 0h5m1 0h2m1 0h1m2 0h1m-25 1h1m3 0h3m1 0h5m1 0h2m1 0h1m2 0h2m2 0h2m-28 1h3m1 0h1m1 0h5m4 0h1m1 0h3m1 0h1m1 0h1m3 0h1m-28 1h3m2 0h3m1 0h2m4 0h3m2 0h1m1 0h1m1 0h2m-26 1h3m7 0h2m2 0h6m1 0h2m1 0h1m-23 1h1m1 0h4m3 0h3m1 0h1m3 0h1m3 0h1m-24 1h2m1 0h2m1 0h4m3 0h2m2 0h1m2 0h2m-22 1h1m1 0h1m1 0h2m2 0h3m5 0h2m1 0h2m-20 1h1m2 0h1m2 0h1m1 0h1m2 0h2m1 0h1m3 0h1m-17 1h5m1 0h4m1 0h2m1 0h2m-19 1h3m1 0h3m2 0h1m3 0h1m1 0h2m-16 1h1m1 0h1m1 0h2m3 0h1m2 0h2m-14 1h1m2 0h1m4 0h3m2 0h2m-15 1h3m4 0h3m1 0h1m1 0h1m-14 1h3m1 0h1m3 0h2m-10 1h1m1 0h3m1 0h2m1 0h2m-10 1h3m3 0h3m-10 1h1m1 0h1m-3 1h1m2 0h2m1 0h1m-8 1h1m2 0h3m-6 1h5m-5 1h1m2 0h2m-4 2h1" stroke="#00f232" fill="none"/>
<path d="M76 122L70 125L66 131L63 138L60 148L58 158L57.5 170L59 185.7L85.4 164.5L85.2 121.5Z" fill="#00f232"/>
<path d="M104 105.5h1m1 0h1m-2 1h1m7 0h1m-11 1h1m8 0h1m-8 1h2m6 0h1m-8 1h1m3 1h1m-9 2h1m9 0h1m-6 1h1m4 1h1m3 0h1m-11 1h1m11 0h1m-5 1h1m2 0h1m-8 1h2m4 0h2m-12 1h1m2 0h1m3 0h1m2 0h2m-10 1h1m9 0h1m-8 1h1m3 2h1m2 1h1m1 0h1m-12 1h1m9 0h1m-12 1h1m4 1h1m7 0h1m-7 2h1m0 1h1m4 0h1m-11 1h2m3 0h1m1 0h1m4 1h2m-17 1h1m11 0h1m2 0h2m-12 1h1m-1 1h1m7 0h1m-14 1h1m2 0h1m-3 1h1m3 0h1m-3 1h1m3 0h1m-2 1h1m-9 2h1m3 0h1m1 0h2m9 0h1m-11 2h1m8 0h2m-16 1h1m3 0h1m8 1h1m-15 1h1m10 0h1m2 0h1m3 1h1m-14 1h1m-5 1h1m6 0h2m3 0h1m2 1h1m-15 2h1m8 0h1m-3 1h1m-7 1h1m10 1h1m1 0h1m-10 1h1m1 0h1m-8 1h1m5 0h2m-9 1h2m5 0h1m-6 1h1m8 0h1m1 0h1m-11 1h1m2 1h1m1 0h1m1 0h1m-8 1h2m3 0h1m0 1h4m-5 1h1m3 0h1m-9 1h1m5 0h1" stroke="#fff018" fill="none"/>
<path d="M116 113.5h1m-4 1h3m1 0h1m-6 1h3m1 0h1m-16 1h1m2 0h2m1 0h1m4 0h1m2 0h1m-16 1h6m2 0h1m3 0h1m1 0h1m-20 1h2m1 0h1m2 0h1m2 0h1m3 0h2m1 0h4m-29 1h5m9 0h1m2 0h1m1 0h3m3 0h1m-24 1h2m1 0h1m2 0h1m1 0h1m1 0h2m1 0h1m1 0h1m3 0h1m2 0h3m-26 1h1m2 0h4m3 0h1m1 0h1m1 0h1m1 0h1m2 0h2m1 0h1m-23 1h1m2 0h1m1 0h3m2 0h2m4 0h1m5 0h1m1 0h1m-26 1h2m1 0h2m1 0h4m2 0h1m1 0h1m4 0h1m2 0h3m-25 1h1m5 0h1m5 0h2m2 0h1m4 0h1m-21 1h1m3 0h2m3 0h1m4 0h3m2 0h4m-24 1h1m4 0h1m3 0h3m2 0h1m3 0h2m1 0h1m-14 1h3m9 0h1m-20 1h3m1 0h3m1 0h3m3 0h2m5 0h1m-23 1h2m4 0h1m3 0h1m2 0h1m2 0h1m3 0h1m-21 1h1m3 0h1m3 0h1m1 0h1m3 0h4m2 0h1m1 0h1m-17 1h2m4 0h1m1 0h1m1 0h1m1 0h1m2 0h1m1 0h1m-23 1h3m2 0h1m4 0h2m1 0h2m2 0h2m2 0h2m-23 1h1m3 0h1m10 0h2m1 0h1m2 0h2m-24 1h4m2 0h1m1 0h1m12 0h3m-22 1h1m9 0h1m4 0h1m3 0h2m-23 1h1m3 0h1m1 0h1m1 0h1m4 0h1m2 0h4m1 0h2m-23 1h2m1 0h1m3 0h1m1 0h2m1 0h1m2 0h1m3 0h1m-20 1h1m8 0h1m2 0h2m2 0h1m3 0h1m1 0h1m-21 1h1m5 0h2m7 0h1m1 0h1m1 0h3m-24 1h1m1 0h1m2 0h1m5 0h2m3 0h1m1 0h1m1 0h1m2 0h1m-23 1h1m1 0h2m7 0h1m3 0h2m1 0h1m-18 1h1m2 0h1m1 0h1m1 0h1m1 0h1m1 0h1m1 0h2m3 0h1m1 0h2m-20 1h1m9 0h1m1 0h1m1 0h1m3 0h2m-23 1h1m2 0h3m2 0h1m3 0h1m1 0h1m4 0h4m-20 1h1m2 0h3m2 0h1m1 0h1m1 0h1m1 0h2m1 0h3m-24 1h1m2 0h2m4 0h1m3 0h1m1 0h1m1 0h1m3 0h1m-22 1h3m1 0h1m3 0h1m3 0h1m4 0h3m2 0h2m-24 1h3m4 0h1m2 0h1m7 0h1m1 0h1m1 0h3m-25 1h1m1 0h1m5 0h1m3 0h1m2 0h1m3 0h1m3 0h2m-23 1h1m1 0h1m2 0h1m1 0h3m2 0h2m1 0h1m2 0h1m1 0h1m1 0h1m-23 1h1m1 0h1m2 0h1m3 0h5m1 0h1m1 0h1m1 0h1m-15 1h1m2 0h1m2 0h2m3 0h3m1 0h1m-23 1h2m4 0h1m1 0h1m2 0h1m7 0h1m1 0h2m2 0h1m-25 1h1m3 0h1m5 0h1m4 0h2m2 0h2m3 0h1m-25 1h1m1 0h1m1 0h6m2 0h1m7 0h1m-22 1h1m1 0h1m1 0h1m5 0h1m11 0h2m-24 1h1m1 0h2m1 0h3m4 0h1m1 0h1m2 0h2m2 0h2m1 0h1m-22 1h1m2 0h2m2 0h1m3 0h1m4 0h1m3 0h1m-24 1h1m2 0h4m1 0h1m3 0h1m2 0h2m6 0h1m1 0h1m-23 1h1m1 0h1m6 0h1m2 0h3m2 0h2m3 0h2m-27 1h1m3 0h2m1 0h2m2 0h2m1 0h1m4 0h2m3 0h1m-25 1h4m2 0h1m6 0h2m2 0h1m3 0h1m4 0h1m-26 1h2m3 0h4m2 0h2m1 0h6m1 0h1m2 0h1m-23 1h2m9 0h1m1 0h2m1 0h1m5 0h1m1 0h1" stroke="#fff018" fill="none"/>
<path d="M102 157L101 145L102 132L104 124L102 120L95 120.5L86 122L86 164.5L102.8 164.4Z" fill="#fff018"/>
<path d="M91 118.5h1m1 0h5m1 0h1m1 0h2m-15 1h7m1 0h1m3 0h2m1 0h1m-19 1h1m1 0h2m3 0h1m2 0h1m1 0h2m4 0h1m-19 1h1m4 0h1m-6 1h1m17 0h1m1 0h1m-3 1h2m1 0h1m-2 2h1m-2 2h1m-20 1h1m18 0h1m-2 1h1m1 0h1m-21 2h1m16 0h3m-3 2h2m-19 1h1m15 1h1m-1 1h3m-19 1h1m-1 1h1m16 0h1m-2 1h1m0 1h1m-18 1h1m15 0h1m-17 1h1m-1 1h1m15 0h3m-19 1h1m16 0h1m-18 1h1m15 0h3m-19 1h1m16 0h1m-1 1h1m-18 1h1m15 0h2m-18 1h1m16 0h2m-19 1h1m16 0h2m-19 1h1m17 0h1m-19 1h1m17 0h1m-19 1h1m16 0h2m-19 1h1m16 1h2m-2 1h2m-2 1h3m-20 1h1m16 0h1m1 0h1m-20 1h1m16 0h3m-3 1h1m1 0h1m-20 1h1m16 1h3m0 1h1m-21 1h1" stroke="#fff018" fill="none"/>
<path d="M88 121.5h1m2 3h1m-6 1h1m13 0h1m-3 1h2m-8 4h1m5 0h1m-5 2h1m-8 1h1m13 0h1m-12 1h1m8 0h1m-5 1h1m-4 1h1m8 4h1m-4 2h1m-5 2h1m-8 1h1m1 0h1m6 1h1m-2 5h1m4 3h1m-6 1h1m-4 1h1m-7 3h1m5 1h1" stroke="#303030" fill="none"/>
<path d="M108 165.5h1m5 0h1m2 0h2m1 0h1m1 0h1m-14 1h2m4 0h2m2 0h1m0 1h1m1 0h3m-13 1h2m1 0h2m6 0h1m-15 1h2m11 0h1m2 0h1m-18 1h1m2 0h1m5 0h1m-9 1h1m1 0h1m1 0h1m3 0h1m4 0h1m1 0h1m-6 1h1m5 0h1m1 0h1m-17 1h1m4 0h1m10 0h1m1 0h1m-22 1h1m9 0h1m5 0h1m2 0h3m-20 1h1m5 0h1m2 0h1m-7 1h1m1 0h2m1 0h1m3 0h2m6 0h2m-20 1h1m6 0h1m1 0h1m3 0h1m3 0h1m-20 1h1m5 0h2m1 0h1m3 0h1m-11 1h1m1 0h3m4 0h1m1 0h1m3 0h1m2 0h1m-21 1h1m5 0h1m1 0h1m1 0h1m6 0h2m-13 1h1m8 0h1m1 0h1m-16 1h1m6 0h4m2 0h1m-17 1h1m1 0h1m8 0h1m-7 1h1m5 0h1m3 0h1m-15 1h3m5 0h1m1 0h1m2 0h2m-16 1h3m2 0h1m5 0h2m1 0h1m-14 1h1m4 0h1m6 0h1m-12 1h1m1 0h3m-3 1h2m-3 1h1" stroke="#ff2d0f" fill="none"/>
<path d="M63 189L63 198.4L78.4 196.5L100 193L116 189L124 184L129 178L124 173L112.4 165.3L85.7 165.3Z" fill="#ff2d0f"/>
<path d="M116 165.5h1m-2 1h3m-35 1h1m35 0h1m-40 2h2m37 0h3m0 1h1m-45 1h2m44 0h1m-48 1h1m48 0h1m-51 1h1m47 0h1m1 0h3m-4 1h1m-54 1h2m54 0h1m2 0h1m-61 1h5m54 0h1m-58 1h1m57 0h1m-2 1h2m-61 1h1m56 0h1m-60 1h1m59 0h1m-64 1h3m56 0h1m1 0h1m-62 1h2m59 0h1m-64 1h1m3 0h1m57 0h2m-64 1h3m-5 1h1m2 0h1m56 0h1m3 0h1m-66 1h1m58 0h1m-2 1h1m-60 1h1m1 0h1m56 0h1m-59 1h2m51 0h1m2 0h1m1 0h1m-60 1h2m50 0h1m4 0h1m-58 1h1m1 0h1m45 0h5m1 0h1m-55 1h1m47 0h1m1 0h1m1 0h1m-52 1h1m38 0h1m1 0h1m1 0h1m-43 1h1m25 1h1m-27 1h1m19 0h1" stroke="#ff2d0f" fill="none"/>
<path d="M55 190.5h1m1 0h1m-4 1h3m-2 1h2m-5 1h1m1 0h1m4 0h1m-8 1h2m2 0h2m47 0h1m1 0h1m2 0h1m-57 1h1m5 0h1m32 0h1m1 0h1m2 0h1m2 0h1m1 0h1m1 0h1m2 0h2m1 0h1m-59 1h2m3 0h1m1 0h1m21 0h3m8 0h1m2 0h1m1 0h1m1 0h3m1 0h1m-51 1h2m3 0h1m16 0h1m5 0h1m2 0h2m1 0h2m1 0h1m3 0h1m1 0h3m1 0h3m-52 1h1m4 0h2m1 0h1m3 0h1m8 0h1m2 0h1m1 0h1m4 0h1m2 0h4m3 0h1m-38 1h1m2 0h1m1 0h1m2 0h1m1 0h2m1 0h1m1 0h1m2 0h2m1 0h2m1 0h1m1 0h1m4 0h2m-34 1h1m2 0h2m2 0h2m1 0h2m6 0h2m6 0h1m4 0h2m-30 1h1m7 0h2m3 0h2m4 0h1m1 0h1m-26 1h2m1 0h1m1 0h1m2 0h1m1 0h1m1 0h1m2 0h2m1 0h1m3 0h1m-22 1h3m10 0h1m3 0h1m-13 1h1" stroke="#6e6e6e" fill="none"/></g>
<g transform="translate(-0.6,-0.8)">
<path d="M39.4 12H221.4V209.1H39.4Z" fill="none" stroke="#a8a8a8" stroke-width="1.25"/>
<text transform="translate(131.4,9.8) scale(0.95,1)" text-anchor="middle" class="tt">96-120h</text>
<path d="M37.5 209.0H39.5" stroke="#bdbdbd" stroke-width="1"/>
<text transform="translate(37.6,208.6) scale(0.845,1)" text-anchor="end" class="tk">10.0</text>
<path d="M37.5 159.2H39.5" stroke="#bdbdbd" stroke-width="1"/>
<text transform="translate(37.6,160.1) scale(0.845,1)" text-anchor="end" class="tk">100.0</text>
<path d="M37.5 109.4H39.5" stroke="#bdbdbd" stroke-width="1"/>
<text transform="translate(37.6,110.4) scale(0.845,1)" text-anchor="end" class="tk">1000.0</text>
<path d="M39.4 209.5V211.5" stroke="#bdbdbd" stroke-width="1"/>
<text transform="translate(39.4,218.4) scale(0.845,1)" text-anchor="middle" class="tk">10.4</text>
<path d="M73.9 209.5V211.5" stroke="#bdbdbd" stroke-width="1"/>
<text transform="translate(73.9021,218.4) scale(0.845,1)" text-anchor="middle" class="tk">100.0</text>
<path d="M109.0 209.5V211.5" stroke="#bdbdbd" stroke-width="1"/>
<text transform="translate(109.002,218.4) scale(0.845,1)" text-anchor="middle" class="tk">1000.0</text>
<path d="M144.1 209.5V211.5" stroke="#bdbdbd" stroke-width="1"/>
<text transform="translate(144.102,218.4) scale(0.845,1)" text-anchor="middle" class="tk">10000.0</text>
<path d="M179.2 209.5V211.5" stroke="#bdbdbd" stroke-width="1"/>
<text transform="translate(179.202,218.4) scale(0.845,1)" text-anchor="middle" class="tk">100000.0</text>
<path d="M220.2 209.5V211.5" stroke="#bdbdbd" stroke-width="1"/>
<text transform="translate(220.233,218.4) scale(0.845,1)" text-anchor="middle" class="tk">1475576.8</text>
<text transform="translate(129.7,229.2) scale(0.845,1)" text-anchor="middle" class="tk">Mean Intensity mCherry_BckgroCorr</text>
<text transform="translate(8.3,123.4) rotate(-90) scale(0.845,1)" text-anchor="middle" class="tk">Mean Intensity YFP_BckgroCorr</text>
<rect x="156.0" y="15.9" width="7" height="7" fill="#fff018"/>
<text transform="translate(165.7,23) scale(0.845,1)" class="lg">G2</text>
<text transform="translate(218.5,23) scale(0.845,1)" text-anchor="end" class="lg">6.97</text>
<rect x="156.0" y="26.5" width="7" height="7" fill="#00f232"/>
<text transform="translate(165.7,33.6) scale(0.845,1)" class="lg">S</text>
<text transform="translate(218.5,33.6) scale(0.845,1)" text-anchor="end" class="lg">23.58</text>
<rect x="156.0" y="37.1" width="7" height="7" fill="#ff2d0f"/>
<text transform="translate(165.7,44.2) scale(0.845,1)" class="lg">G1</text>
<text transform="translate(218.5,44.2) scale(0.845,1)" text-anchor="end" class="lg">68.62</text>
<rect x="156.0" y="47.7" width="7" height="7" fill="#8c8c8c"/>
<text transform="translate(165.7,54.8) scale(0.845,1)" class="lg">96-120h</text>
<text transform="translate(218.5,54.8) scale(0.845,1)" text-anchor="end" class="lg">100.00</text>
<path d="M85.4 60.8 L51.2 91.7 L51.9 192.7 L86 165.3Z" fill="none" stroke="#bdbdbd" stroke-width="1"/>
<path d="M86 71.3 L132.2 85.4 L152.6 164.9 L86 165.3Z" fill="none" stroke="#bdbdbd" stroke-width="1"/>
<path d="M86 166.1 L145.8 166.1 L136.9 190.3 L63.3 199.2 L57.8 187.9" fill="none" stroke="#bdbdbd" stroke-width="1"/>
<g>
<rect x="87.8" y="48.5" width="16" height="9" fill="#000"/>
<text transform="translate(95.8,56) scale(0.93,1)" text-anchor="middle" class="rl">R02</text>
<rect x="155" y="152.3" width="15" height="9.6" fill="#000"/>
<text transform="translate(162.5,160) scale(0.93,1)" text-anchor="middle" class="rl">R03</text>
<rect x="149.6" y="155.2" width="4.2" height="6" fill="#000"/>
<text transform="translate(151.7,160.8) scale(1,1)" text-anchor="middle" class="rb">B</text>
</g>
</g>
</g>
<g transform="translate(508,241)">
<rect x="0" y="0" width="242" height="230" fill="#303030"/>
<g filter="url(#bl)"><path d="M78 110.5h1m4 0h1m-4 1h2m1 0h2m-6 1h4m1 0h1m-14 1h2m1 0h3m1 0h2m3 0h1m-14 1h1m1 0h1m1 0h1m1 0h1m1 0h1m2 0h3m-14 1h5m1 0h1m1 0h1m1 0h3m1 0h1m-18 1h1m2 0h1m1 0h2m2 0h2m1 0h1m1 0h1m1 0h1m-19 1h2m2 0h1m2 0h3m7 0h1m1 0h1m-22 1h1m2 0h1m2 0h1m1 0h2m1 0h2m1 0h2m1 0h3m-19 1h1m1 0h1m1 0h1m1 0h1m1 0h1m2 0h1m2 0h1m1 0h2m1 0h1m-21 1h1m1 0h1m1 0h1m2 0h1m1 0h5m1 0h3m-19 1h2m3 0h1m3 0h1m1 0h3m1 0h1m2 0h2m-19 1h2m1 0h12m1 0h1m3 0h1m-21 1h1m2 0h1m7 0h1m2 0h1m1 0h3m2 0h1m-22 1h5m3 0h1m5 0h1m4 0h1m1 0h1m-22 1h1m2 0h3m4 0h2m4 0h4m1 0h1m-24 1h4m1 0h3m1 0h3m1 0h1m1 0h1m1 0h1m1 0h1m1 0h1m-24 1h2m1 0h1m1 0h4m3 0h2m3 0h2m3 0h1m-22 1h1m1 0h2m3 0h2m3 0h5m1 0h1m2 0h3m-23 1h1m2 0h1m1 0h2m2 0h1m6 0h2m1 0h1m3 0h1m-26 1h3m2 0h1m2 0h1m1 0h2m5 0h1m1 0h2m3 0h1m-26 1h1m1 0h1m1 0h1m1 0h1m1 0h4m2 0h3m3 0h3m1 0h1m-25 1h2m5 0h1m2 0h3m1 0h1m2 0h4m4 0h1m-25 1h3m4 0h1m4 0h1m1 0h2m1 0h1m1 0h2m3 0h1m-26 1h1m4 0h13m3 0h1m2 0h2m-27 1h3m1 0h2m3 0h1m4 0h3m1 0h2m3 0h3m-26 1h1m1 0h1m5 0h3m1 0h2m2 0h1m1 0h2m1 0h3m1 0h2m-27 1h1m1 0h2m2 0h1m1 0h10m2 0h1m1 0h2m2 0h1m-28 1h1m3 0h1m2 0h2m5 0h1m7 0h1m2 0h2m1 0h1m-29 1h3m2 0h1m2 0h7m2 0h3m1 0h2m1 0h1m1 0h2m-28 1h1m2 0h1m2 0h3m1 0h1m1 0h2m2 0h5m1 0h1m1 0h1m1 0h1m1 0h1m-30 1h5m2 0h1m1 0h5m2 0h4m2 0h1m1 0h1m1 0h1m1 0h2m-29 1h2m1 0h1m3 0h1m2 0h2m1 0h1m2 0h2m3 0h1m5 0h1m-26 1h5m4 0h2m1 0h1m4 0h1m1 0h2m1 0h1m2 0h1m-30 1h1m1 0h4m3 0h3m1 0h3m1 0h5m2 0h4m1 0h1m-30 1h1m6 0h6m1 0h5m1 0h2m5 0h1m1 0h2m-31 1h1m5 0h4m1 0h1m1 0h2m3 0h1m1 0h1m2 0h2m1 0h5m-32 1h2m6 0h1m5 0h1m1 0h3m1 0h2m1 0h2m1 0h4m-28 1h3m1 0h3m3 0h2m2 0h1m6 0h3m1 0h3m-28 1h1m2 0h1m1 0h4m2 0h1m2 0h1m3 0h1m1 0h4m4 0h1m-30 1h2m2 0h1m2 0h3m1 0h1m1 0h1m2 0h1m2 0h1m1 0h2m1 0h1m2 0h2m1 0h1m-31 1h1m4 0h3m2 0h2m1 0h2m1 0h3m2 0h1m4 0h1m1 0h1m-29 1h2m1 0h1m1 0h3m5 0h1m3 0h2m3 0h1m1 0h3m1 0h1m-30 1h3m1 0h1m1 0h1m3 0h2m1 0h1m1 0h1m1 0h4m1 0h1m4 0h2m2 0h1m-32 1h1m1 0h1m5 0h1m1 0h1m1 0h1m1 0h3m2 0h3m2 0h2m1 0h2m1 0h1m-28 1h2m2 0h1m7 0h8m5 0h1m1 0h1m-30 1h1m1 0h2m1 0h1m3 0h2m2 0h1m1 0h1m2 0h1m3 0h4m1 0h1m-28 1h1m4 0h5m1 0h2m1 0h2m1 0h2m2 0h1m1 0h1m1 0h2m3 0h1m-32 1h2m2 0h8m3 0h1m1 0h1m1 0h1m1 0h2m2 0h2m3 0h1m-31 1h2m2 0h1m1 0h2m1 0h1m1 0h1m5 0h1m2 0h1m1 0h3m5 0h1m-31 1h2m3 0h2m2 0h1m1 0h3m1 0h6m1 0h2m2 0h2m1 0h1m1 0h1m-32 1h4m2 0h1m1 0h8m2 0h1m1 0h1m4 0h1m3 0h2m-30 1h3m3 0h2m2 0h2m1 0h7m2 0h1m1 0h3m3 0h1m-32 1h3m1 0h1m1 0h2m3 0h1m3 0h3m2 0h1m1 0h2m3 0h3m1 0h1m-30 1h1m3 0h1m1 0h3m1 0h1m2 0h1m1 0h1m1 0h3m1 0h1m1 0h2m1 0h3m-29 1h2m4 0h2m1 0h2m2 0h1m2 0h1m1 0h1m1 0h1m3 0h4m-30 1h2m2 0h3m2 0h3m1 0h1m1 0h1m4 0h1m4 0h1m1 0h3m-30 1h1m3 0h4m2 0h1m1 0h1m2 0h1m3 0h3m2 0h1m1 0h2m-28 1h1m1 0h2m1 0h1m1 0h2m1 0h2m1 0h1m2 0h4m-20 1h1m2 0h5m3 0h2m1 0h3m1 0h2m-20 1h1m1 0h1m1 0h1m6 0h1m1 0h1m3 0h1m5 0h1m-23 1h2m1 0h1m2 0h2m3 0h4m1 0h5m-20 1h2m1 0h1m4 0h2m1 0h1m1 0h1m1 0h3m-20 1h2m2 0h1m2 0h1m1 0h3m2 0h3m1 0h1m1 0h1m-20 1h1m2 0h1m3 0h1m1 0h3m-13 1h2m2 0h2m2 0h1m7 0h2m-18 1h1m2 0h2m8 0h2m2 0h1m-17 1h1m1 0h3m1 0h5m1 0h1m1 0h1m-14 1h2m2 0h1m1 0h1m1 0h2m1 0h1m-14 1h2m3 0h1m4 0h1m-10 1h1m1 0h1m1 0h4m1 0h1m-11 1h1m1 0h2m2 0h1m2 0h1m-8 1h2m1 0h4m-4 1h3m-6 1h2m1 0h2m-6 1h3m1 0h1m-3 1h1m-4 3h1" stroke="#00f232" fill="none"/>
<path d="M80 112.5L75 114L70 118L66 124L63 132L60 142L57.5 155L57.5 170L58.9 185.4L84.9 164.5L84.6 112Z" fill="#00f232"/>
<path d="M120 93.5h1m-3 1h1m-4 1h2m-3 1h1m1 0h1m4 0h2m-16 1h1m3 0h1m1 0h1m1 0h1m1 0h4m1 0h2m-20 1h2m1 0h1m1 0h2m2 0h1m4 0h1m-17 1h3m2 0h3m4 0h1m3 0h1m-10 1h1m1 0h1m1 0h2m6 0h1m-26 1h1m9 0h1m3 0h2m4 0h1m1 0h1m1 0h1m-27 1h1m1 0h1m3 0h2m8 0h1m1 0h2m1 0h1m-26 1h1m4 0h1m1 0h1m4 0h1m1 0h1m6 0h1m1 0h1m1 0h1m2 0h2m-33 1h3m1 0h3m3 0h1m5 0h2m2 0h1m1 0h1m1 0h3m3 0h1m-33 1h1m4 0h1m2 0h1m4 0h1m3 0h1m3 0h1m4 0h1m-26 1h1m1 0h1m3 0h1m1 0h4m5 0h1m1 0h2m2 0h1m-14 1h1m1 0h1m1 0h2m-16 1h1m3 0h1m1 0h3m3 0h1" stroke="#fff018" fill="none"/>
<path d="M120 94.5h1m-3 1h1m2 0h2m-8 1h1m1 0h2m2 0h1m-8 1h1m1 0h1m2 0h1m-11 1h2m1 0h1m1 0h5m3 0h1m-18 1h1m3 0h3m2 0h2m3 0h5m-19 1h2m1 0h1m2 0h3m1 0h2m1 0h2m3 0h1m-23 1h2m1 0h3m2 0h3m3 0h1m3 0h6m-26 1h2m1 0h2m1 0h2m2 0h2m3 0h3m4 0h2m-25 1h3m1 0h1m1 0h4m2 0h1m1 0h1m1 0h1m1 0h2m1 0h1m5 0h1m-28 1h1m1 0h3m2 0h3m1 0h1m1 0h2m1 0h3m1 0h1m2 0h2m-31 1h1m2 0h2m1 0h1m2 0h2m1 0h2m1 0h2m1 0h3m1 0h1m1 0h1m1 0h2m1 0h4m-36 1h2m3 0h1m3 0h5m2 0h2m1 0h1m2 0h2m3 0h2m4 0h4m-39 1h1m1 0h3m2 0h4m2 0h7m2 0h1m1 0h1m1 0h1m1 0h1m1 0h1m1 0h3m2 0h1m-36 1h5m1 0h1m2 0h2m2 0h2m2 0h3m1 0h4m1 0h3m1 0h1m5 0h2m-40 1h1m1 0h4m1 0h1m1 0h1m1 0h2m2 0h2m2 0h2m2 0h2m1 0h3m3 0h1m2 0h1m-35 1h2m4 0h2m3 0h2m1 0h5m3 0h2m1 0h2m1 0h1m2 0h3m1 0h2m1 0h2m-38 1h1m1 0h1m1 0h3m1 0h5m1 0h1m2 0h2m1 0h4m1 0h3m1 0h3m1 0h3m1 0h1m-37 1h5m9 0h1m3 0h3m2 0h1m1 0h2m1 0h1m2 0h2m2 0h2m-34 1h1m1 0h1m1 0h1m1 0h1m1 0h1m1 0h2m1 0h1m1 0h1m5 0h2m1 0h3m1 0h4m-32 1h4m1 0h1m5 0h1m1 0h3m1 0h3m1 0h1m1 0h1m1 0h3m1 0h2m2 0h1m-34 1h7m2 0h2m3 0h1m2 0h1m3 0h1m5 0h1m1 0h4m-33 1h3m1 0h2m3 0h1m1 0h1m1 0h1m2 0h3m1 0h3m3 0h3m1 0h1m1 0h3m-32 1h1m1 0h2m1 0h5m1 0h1m4 0h3m2 0h3m1 0h1m-25 1h2m4 0h1m1 0h3m1 0h1m2 0h2m3 0h1m2 0h1m2 0h1m2 0h2m-31 1h6m1 0h7m1 0h2m1 0h5m1 0h6m-28 1h2m4 0h2m1 0h1m1 0h1m1 0h4m1 0h3m2 0h4m1 0h2m-29 1h1m1 0h1m2 0h2m1 0h3m1 0h3m1 0h1m3 0h1m1 0h1m3 0h2m-27 1h1m1 0h2m1 0h3m1 0h3m1 0h2m1 0h1m2 0h5m-20 1h2m1 0h1m1 0h2m3 0h6m1 0h4m1 0h1m-26 1h3m1 0h3m2 0h1m5 0h1m2 0h1m1 0h2m1 0h1m1 0h2m-25 1h7m4 0h1m1 0h2m4 0h1m3 0h1m-23 1h1m1 0h1m4 0h1m3 0h1m5 0h6m-25 1h1m1 0h3m2 0h4m2 0h1m3 0h1m2 0h1m1 0h2m-24 1h1m6 0h3m2 0h2m4 0h3m2 0h1m1 0h1m-26 1h4m1 0h2m2 0h1m8 0h1m1 0h1m1 0h3m-25 1h2m3 0h2m1 0h1m1 0h1m2 0h1m1 0h1m4 0h2m1 0h1m-24 1h3m1 0h1m1 0h1m3 0h4m4 0h2m1 0h1m1 0h2m-24 1h3m1 0h5m1 0h1m6 0h1m2 0h1m2 0h1m-25 1h1m1 0h1m1 0h1m1 0h4m1 0h4m4 0h1m3 0h1m1 0h1m-25 1h3m1 0h1m2 0h3m3 0h2m1 0h2m4 0h2m-23 1h1m4 0h1m3 0h4m1 0h4m1 0h1m2 0h1m1 0h1m-27 1h2m1 0h1m2 0h4m1 0h1m2 0h4m2 0h1m2 0h4m-27 1h5m1 0h1m3 0h1m1 0h3m2 0h2m1 0h1m1 0h1m1 0h2m-25 1h5m1 0h2m1 0h2m1 0h3m2 0h9m-23 1h1m1 0h3m3 0h1m1 0h3m1 0h1m4 0h3m-26 1h6m1 0h5m2 0h1m2 0h5m1 0h2m1 0h1m-27 1h1m7 0h2m1 0h4m3 0h3m3 0h2m-23 1h1m2 0h5m3 0h2m1 0h1m2 0h2m2 0h3m-27 1h1m1 0h2m2 0h1m1 0h2m3 0h3m3 0h2m2 0h1m1 0h3m-26 1h2m2 0h1m3 0h2m2 0h1m1 0h1m4 0h1m1 0h1m1 0h2m-26 1h1m1 0h4m4 0h2m2 0h1m1 0h5m1 0h1m1 0h3m-28 1h3m4 0h1m2 0h1m13 0h1m2 0h1m-28 1h3m1 0h1m1 0h2m1 0h4m1 0h1m7 0h2m-23 1h4m4 0h1m1 0h1m2 0h1m1 0h2m2 0h4m1 0h1m2 0h1m-29 1h1m1 0h1m3 0h4m1 0h1m1 0h3m1 0h5m3 0h2m-22 1h4m1 0h1m1 0h1m2 0h1m1 0h2m1 0h3m1 0h5m-24 1h3m1 0h1m1 0h7m3 0h6m1 0h1m-29 1h1m1 0h2m3 0h1m1 0h6m4 0h4m1 0h1m1 0h2m-28 1h8m1 0h1m2 0h1m1 0h1m1 0h2m2 0h2m5 0h2m-26 1h1m1 0h1m1 0h2m3 0h1m1 0h3m3 0h1m2 0h5m-27 1h5m1 0h2m1 0h2m4 0h1m1 0h1m1 0h2m1 0h1m2 0h1m1 0h1m-27 1h3m5 0h1m1 0h1m2 0h1m1 0h1m1 0h2m3 0h2m1 0h3m-30 1h2m1 0h1m1 0h2m1 0h3m1 0h5m3 0h2m1 0h2m1 0h3m-26 1h1m1 0h5m5 0h1m2 0h2m1 0h1m2 0h2m3 0h1m-30 1h1m4 0h3m2 0h4m1 0h1m1 0h2m1 0h2m3 0h4m-29 1h4m1 0h1m4 0h1m1 0h2m2 0h4m5 0h3m1 0h1m-29 1h1m3 0h1m1 0h1m2 0h1m1 0h1m2 0h2m1 0h1m1 0h1m2 0h6m-28 1h2m1 0h3m1 0h3m1 0h1m2 0h2m1 0h2m7 0h1m-24 1h4m4 0h2m3 0h6m5 0h2m-26 1h3m4 0h1m4 0h1m3 0h1m3 0h1" stroke="#fff018" fill="none"/>
<path d="M113 118.5h1m4 0h1m-5 1h2m-4 2h1m1 0h3m-2 1h1m2 0h1m-6 1h1m2 0h2m-3 1h1m-4 1h2m4 0h1m-7 1h6m-3 1h1m2 0h1m-4 1h2m1 0h1m-4 1h1m-4 1h1m1 0h1m0 1h1" stroke="#303030" fill="none"/>
<path d="M104 145L105 130L107 117L103 112L95 113L85 118L85 164.5L104 164.4Z" fill="#fff018"/>
<path d="M103 109.5h1m-11 1h1m3 0h3m3 0h2m-13 1h1m1 0h5m5 0h2m-18 1h1m2 0h2m1 0h2m1 0h1m5 0h3m-19 1h2m2 0h1m1 0h2m9 0h2m1 0h1m-23 1h2m1 0h1m1 0h2m13 0h2m1 0h1m-25 1h3m1 0h2m18 0h1m-25 1h2m2 0h1m17 0h1m1 0h1m-23 1h1m22 0h1m-3 1h3m-4 1h1m2 1h1m-3 1h2m-2 1h1m-2 1h2m-1 1h1m-3 1h1m0 1h1m-2 1h1m2 0h1m-25 2h1m20 0h1m-1 1h3m-4 1h1m1 0h1m-1 1h2m-3 1h3m-4 1h1m1 0h2m-2 1h2m-24 1h1m19 0h1m-1 1h1m-1 1h3m-2 1h1m-22 1h1m20 1h2m-3 1h3m-2 1h1m-2 1h2m-22 1h1m20 0h2m-3 1h1m1 0h1m-3 1h3m-3 1h3m-3 1h1m0 1h2m-3 1h1m-1 1h2m-2 1h3m-3 1h1m-1 1h3m-3 1h2m0 1h1m-1 1h1m-1 1h1m-3 1h1m1 0h1m-3 1h3m-3 1h1m1 0h1m-3 1h1" stroke="#fff018" fill="none"/>
<path d="M98 115.5h1m5 0h1m-4 1h1m-17 1h1m10 3h1m-10 1h1m4 4h1m1 0h1m-2 1h1m3 0h1m2 0h1m-11 1h1m3 0h1m-1 2h1m4 0h1m-10 1h1m-2 2h1m12 2h1m-2 1h1m-9 1h1m6 0h1m-16 1h1m9 1h2m-10 1h1m13 3h1m-6 1h1m6 2h1m-3 1h1m-12 3h1m6 0h1m4 1h1m-4 1h1m-8 1h1m-7 1h1m-2 4h1m3 4h2m10 0h1m-1 2h1" stroke="#303030" fill="none"/>
<path d="M130 165.5h1m1 0h1m2 0h1m-16 1h6m2 0h1m1 0h2m1 0h1m2 0h2m-15 1h2m4 0h1m1 0h3m-14 1h1m2 0h1m2 0h2m4 0h1m1 0h1m2 0h1m-16 1h1m2 0h2m6 0h2m1 0h1m-16 1h1m1 0h1m8 0h1m1 0h2m-15 1h1m2 0h1m4 0h1m1 0h1m1 0h1m-8 1h1m2 0h2m1 0h1m2 0h1m-15 1h1m2 0h1m1 0h1m1 0h1m2 0h1m-10 1h2m3 0h1m1 0h1m1 0h1m-11 1h2m1 0h1m-3 1h1m2 0h1m3 0h2m-10 1h2m1 0h1m4 0h1m1 0h1m-8 1h1m1 0h2m1 0h1m-10 1h3m2 0h1m-6 1h1m2 0h1m3 0h1m-5 1h2m1 0h2m-1 1h1m-8 1h2m1 0h1m2 0h1m-8 1h1m1 0h1m3 0h1m-7 1h2m3 0h1m-6 1h1m4 0h1m-4 1h1m-2 1h3m-3 1h2m-3 1h2" stroke="#ff2d0f" fill="none"/>
<path d="M63 189L63 198.3L118.2 191.6L125 180L130 170L126.2 165.3L84.9 165.3L84.3 165.8Z" fill="#ff2d0f"/>
<path d="M127 166.5h1m1 0h1m-1 1h1m-50 1h1m50 0h2m-2 1h1m-2 1h1m-54 1h3m50 0h2m-55 1h1m51 0h1m-56 1h2m-3 1h1m56 0h1m-58 1h2m53 0h3m-57 1h1m-4 1h1m56 0h1m-60 1h1m-2 1h1m2 0h1m53 0h1m1 0h1m-61 1h3m56 0h2m-63 1h2m57 0h1m1 0h1m-63 1h1m2 0h2m-5 1h1m3 0h1m56 0h1m-62 1h1m58 0h1m-59 1h1m56 0h1m1 0h1m-62 1h1m1 0h1m-6 1h4m57 0h3m-63 1h1m58 0h1m-60 1h1m60 0h1m-62 1h1m57 0h1m-2 1h1m-58 2h1m-2 1h1m1 0h1m-2 2h2" stroke="#ff2d0f" fill="none"/>
<path d="M57 188.5h1m-3 2h1m1 1h2m59 0h1m-65 1h1m1 0h1m62 0h2m-69 1h3m1 0h3m42 0h1m3 0h1m5 0h2m4 0h1m-63 1h1m2 0h1m35 0h2m3 0h1m2 0h1m6 0h1m1 0h3m4 0h2m-63 1h1m1 0h1m24 0h1m5 0h1m5 0h1m1 0h1m1 0h1m5 0h3m5 0h1m-59 1h3m21 0h2m4 0h1m1 0h2m1 0h1m1 0h1m2 0h2m5 0h1m-51 1h1m1 0h1m1 0h2m1 0h2m11 0h1m9 0h1m3 0h2m1 0h1m1 0h1m1 0h1m4 0h2m1 0h1m2 0h2m-55 1h1m2 0h1m4 0h1m1 0h1m1 0h1m6 0h4m1 0h4m2 0h2m2 0h1m1 0h1m3 0h3m4 0h1m-47 1h2m1 0h2m3 0h1m1 0h3m10 0h2m2 0h1m2 0h1m4 0h3m1 0h1m1 0h2m-43 1h3m5 0h3m2 0h1m4 0h2m1 0h1m1 0h4m1 0h1m1 0h2m5 0h2m-38 1h2m1 0h1m2 0h1m2 0h1m1 0h3m2 0h4m2 0h1m1 0h1m5 0h1m-32 1h4m6 0h4m5 0h1m5 0h1m1 0h2m-28 1h4m1 0h2m1 0h1m3 0h1m2 0h1m-9 1h1m2 0h1m1 0h2m1 0h1m-10 1h1m1 0h2" stroke="#6e6e6e" fill="none"/></g>
<g transform="translate(-1.1,-0.8)">
<path d="M39.4 12H221.4V209.1H39.4Z" fill="none" stroke="#a8a8a8" stroke-width="1.25"/>
<text transform="translate(131.4,9.8) scale(0.95,1)" text-anchor="middle" class="tt">120-160h</text>
<path d="M37.5 209.0H39.5" stroke="#bdbdbd" stroke-width="1"/>
<text transform="translate(37.6,208.6) scale(0.845,1)" text-anchor="end" class="tk">10.0</text>
<path d="M37.5 159.2H39.5" stroke="#bdbdbd" stroke-width="1"/>
<text transform="translate(37.6,160.1) scale(0.845,1)" text-anchor="end" class="tk">100.0</text>
<path d="M37.5 109.4H39.5" stroke="#bdbdbd" stroke-width="1"/>
<text transform="translate(37.6,110.4) scale(0.845,1)" text-anchor="end" class="tk">1000.0</text>
<path d="M39.4 209.5V211.5" stroke="#bdbdbd" stroke-width="1"/>
<text transform="translate(39.4,218.4) scale(0.845,1)" text-anchor="middle" class="tk">10.4</text>
<path d="M73.9 209.5V211.5" stroke="#bdbdbd" stroke-width="1"/>
<text transform="translate(73.9021,218.4) scale(0.845,1)" text-anchor="middle" class="tk">100.0</text>
<path d="M109.0 209.5V211.5" stroke="#bdbdbd" stroke-width="1"/>
<text transform="translate(109.002,218.4) scale(0.845,1)" text-anchor="middle" class="tk">1000.0</text>
<path d="M144.1 209.5V211.5" stroke="#bdbdbd" stroke-width="1"/>
<text transform="translate(144.102,218.4) scale(0.845,1)" text-anchor="middle" class="tk">10000.0</text>
<path d="M179.2 209.5V211.5" stroke="#bdbdbd" stroke-width="1"/>
<text transform="translate(179.202,218.4) scale(0.845,1)" text-anchor="middle" class="tk">100000.0</text>
<path d="M220.2 209.5V211.5" stroke="#bdbdbd" stroke-width="1"/>
<text transform="translate(220.233,218.4) scale(0.845,1)" text-anchor="middle" class="tk">1475576.8</text>
<text transform="translate(129.7,229.2) scale(0.845,1)" text-anchor="middle" class="tk">Mean Intensity mCherry_BckgroCorr</text>
<text transform="translate(8.3,123.4) rotate(-90) scale(0.845,1)" text-anchor="middle" class="tk">Mean Intensity YFP_BckgroCorr</text>
<rect x="152.1" y="15.9" width="7" height="7" fill="#fff018"/>
<text transform="translate(161.8,23) scale(0.845,1)" class="lg">G2</text>
<text transform="translate(218.5,23) scale(0.845,1)" text-anchor="end" class="lg">7.87</text>
<rect x="152.1" y="26.5" width="7" height="7" fill="#00f232"/>
<text transform="translate(161.8,33.6) scale(0.845,1)" class="lg">S</text>
<text transform="translate(218.5,33.6) scale(0.845,1)" text-anchor="end" class="lg">20.74</text>
<rect x="152.1" y="37.1" width="7" height="7" fill="#ff2d0f"/>
<text transform="translate(161.8,44.2) scale(0.845,1)" class="lg">G1</text>
<text transform="translate(218.5,44.2) scale(0.845,1)" text-anchor="end" class="lg">70.62</text>
<rect x="152.1" y="47.7" width="7" height="7" fill="#8c8c8c"/>
<text transform="translate(161.8,54.8) scale(0.845,1)" class="lg">120-160h</text>
<text transform="translate(218.5,54.8) scale(0.845,1)" text-anchor="end" class="lg">100.00</text>
<path d="M85.4 60.8 L51.2 91.7 L51.9 192.7 L86 165.3Z" fill="none" stroke="#bdbdbd" stroke-width="1"/>
<path d="M86 71.3 L132.2 85.4 L152.6 164.9 L86 165.3Z" fill="none" stroke="#bdbdbd" stroke-width="1"/>
<path d="M86 166.1 L145.8 166.1 L136.9 190.3 L63.3 199.2 L57.8 187.9" fill="none" stroke="#bdbdbd" stroke-width="1"/>
<g>
<rect x="87.8" y="48.5" width="16" height="9" fill="#000"/>
<text transform="translate(95.8,56) scale(0.93,1)" text-anchor="middle" class="rl">R02</text>
<rect x="155" y="152.3" width="15" height="9.6" fill="#000"/>
<text transform="translate(162.5,160) scale(0.93,1)" text-anchor="middle" class="rl">R03</text>
<rect x="149.6" y="155.2" width="4.2" height="6" fill="#000"/>
<text transform="translate(151.7,160.8) scale(1,1)" text-anchor="middle" class="rb">B</text>
</g>
</g>
</g>
</svg></body></html>
